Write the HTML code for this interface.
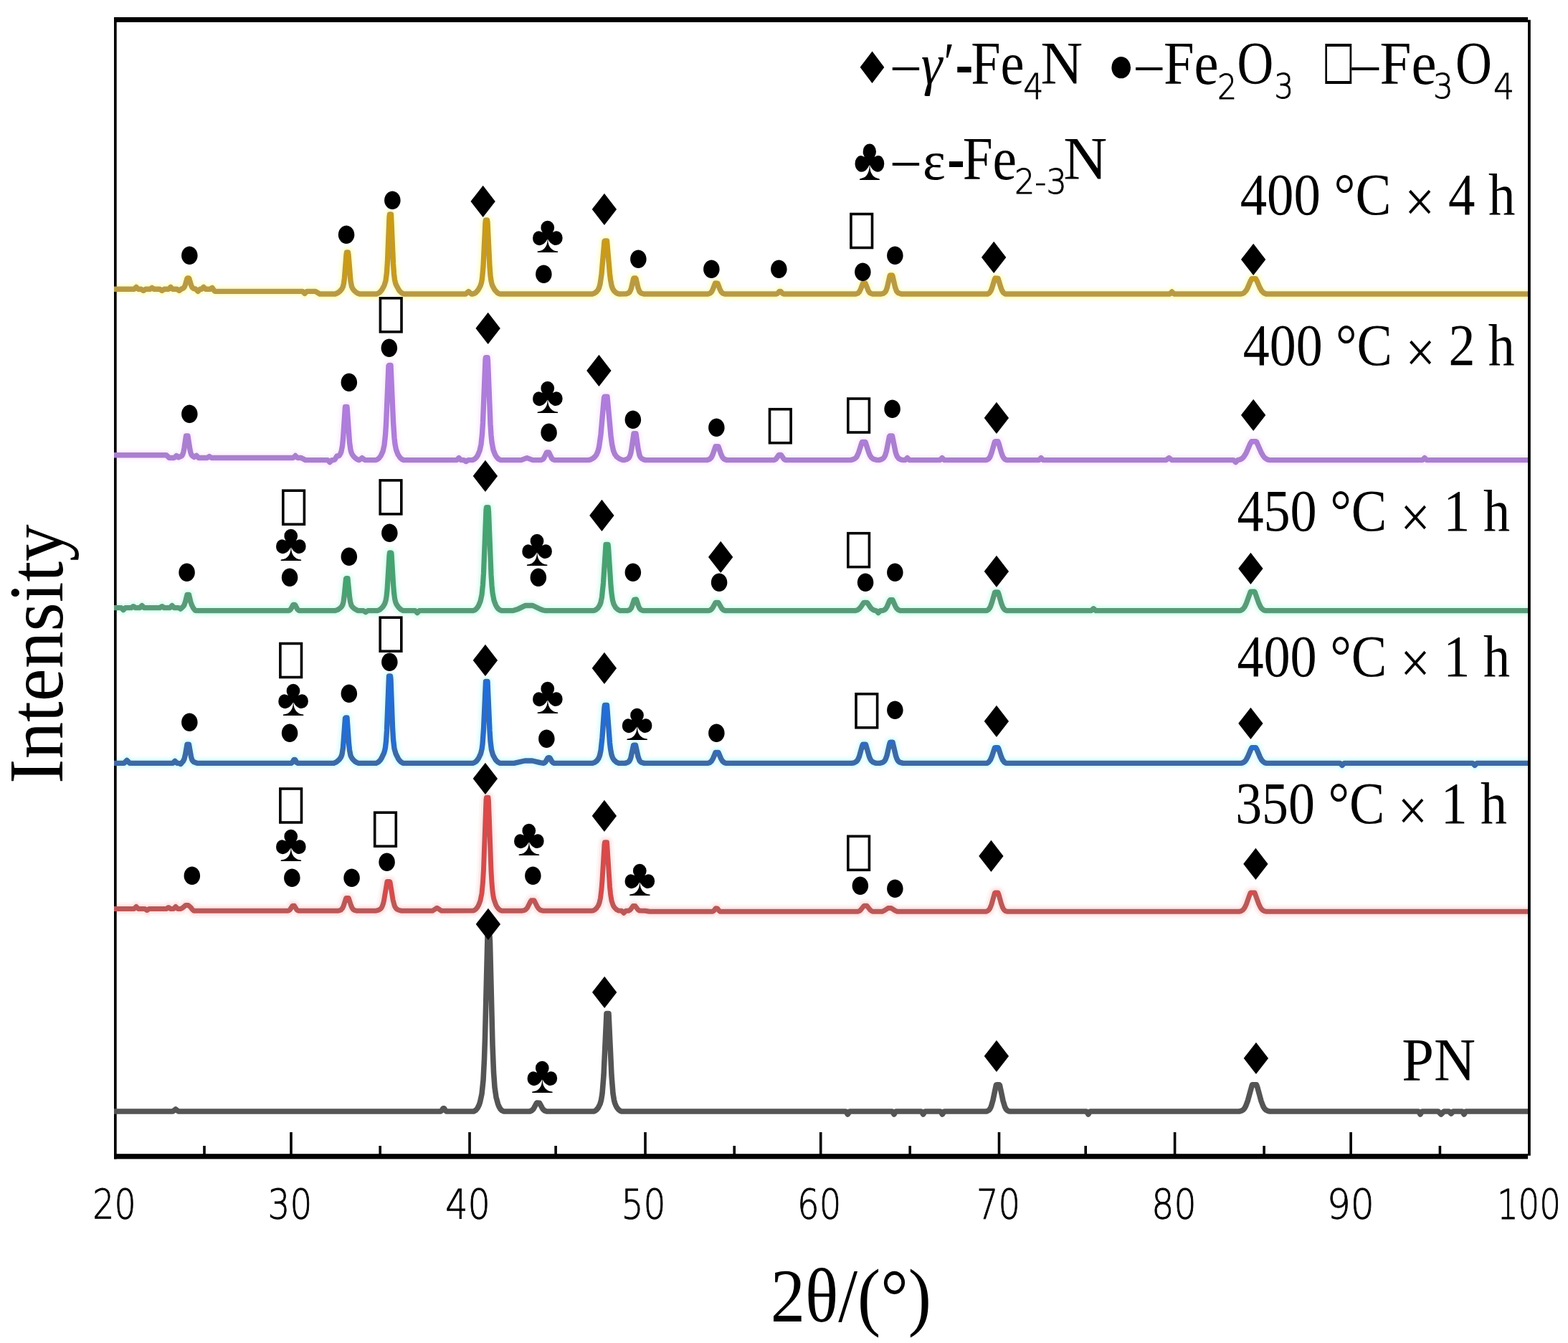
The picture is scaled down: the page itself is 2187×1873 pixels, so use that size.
<!DOCTYPE html>
<html lang="en">
<head>
<meta charset="utf-8">
<title>XRD patterns</title>
<style>
html,body{margin:0;padding:0;background:#fff;}
body{width:2187px;height:1873px;overflow:hidden;}
svg{display:block;}
text{fill:#000;white-space:pre;}
.se{font-family:"Liberation Serif","DejaVu Serif",serif;}
.sa{font-family:"Liberation Sans","DejaVu Sans",sans-serif;}
.dj{font-family:"DejaVu Sans","Liberation Sans",sans-serif;}
.tk{font-family:"DejaVu Sans","Liberation Sans",sans-serif;font-weight:200;stroke:#000;stroke-width:0.9px;}
.cv{fill:none;stroke-linejoin:round;stroke-linecap:butt;}
</style>
</head>
<body>
<svg width="2187" height="1873" viewBox="0 0 2187 1873" role="img" aria-label="XRD patterns">
<rect x="0" y="0" width="2187" height="1873" fill="#fff"/>
<g id="glow">
<path class="cv" stroke="#fffff0" stroke-width="19.4" d="M159.0 403.3L187.0 403.3L190.0 400.3L193.0 403.3L197.0 403.3L200.0 405.3L203.0 403.3L209.0 403.3L212.0 401.3L215.0 403.3L223.0 403.3L226.0 405.3L229.0 403.3L235.0 403.3L238.0 400.3L241.0 403.3L247.0 403.3L250.0 405.3L253.0 403.0L255.0 402.3L256.5 401.1L257.5 399.6L258.5 397.0L261.0 388.3L261.5 388.0L263.5 388.0L264.0 388.9L266.5 397.6L268.0 400.8L270.0 402.4L273.0 403.2L276.0 406.3L279.0 403.3L281.0 403.3L284.0 400.3L287.0 403.3L293.0 403.3L296.0 401.3L299.0 405.6L300.0 406.4L422.0 406.4L425.0 409.4L428.0 406.4L440.0 406.4L446.0 410.0L467.5 410.0L471.0 408.5L474.0 406.2L477.0 402.8L478.5 399.5L479.5 395.1L480.5 387.4L483.0 355.0L483.5 352.0L485.5 352.0L486.0 355.0L489.0 391.7L490.5 399.5L492.0 402.8L494.0 405.3L496.5 407.5L499.0 409.1L501.5 410.0L525.5 410.0L529.0 408.2L531.0 406.3L532.5 404.4L536.0 397.9L538.0 391.6L539.5 379.8L540.5 364.3L543.0 302.5L543.5 299.0L545.5 299.0L548.5 368.0L549.5 382.1L550.5 390.0L551.5 394.4L552.5 397.2L556.0 403.9L557.5 406.0L559.5 408.0L561.5 409.3L563.5 410.0L649.5 410.0L653.5 406.5L657.5 410.0L659.5 410.0L662.0 409.1L664.0 407.7L667.0 404.3L670.0 398.8L671.5 394.1L672.5 388.5L674.0 372.1L677.0 309.8L677.5 307.0L679.5 307.0L680.0 309.8L683.0 372.1L684.0 384.4L685.0 391.7L686.0 396.0L687.0 398.8L690.0 404.3L693.5 408.1L695.5 409.4L697.5 410.0L826.0 410.0L829.0 409.0L832.0 406.9L834.0 404.5L835.5 401.5L837.0 396.3L839.0 382.8L843.0 336.3L843.5 336.0L846.5 336.0L850.5 381.9L851.5 390.0L853.0 398.0L854.5 402.5L856.5 405.7L859.5 408.4L861.5 409.4L863.5 410.0L873.0 409.9L876.0 409.0L878.0 407.5L879.5 404.8L880.5 401.9L883.5 389.0L884.0 388.0L886.5 388.0L887.0 388.6L890.0 401.5L892.0 406.6L894.0 408.7L898.0 410.0L987.5 410.0L990.5 408.9L992.5 406.9L994.0 404.1L997.5 395.0L1001.0 395.2L1004.0 403.1L1006.0 407.1L1008.0 409.0L1011.0 410.0L1083.0 410.0L1084.5 409.2L1087.0 406.5L1089.0 406.5L1091.5 409.2L1093.0 410.0L1193.5 410.0L1196.5 409.0L1198.5 407.1L1200.5 403.1L1203.5 395.2L1204.0 395.0L1207.0 395.0L1211.0 405.2L1212.5 407.6L1214.0 408.9L1217.0 410.0L1229.0 410.0L1231.5 409.4L1233.5 408.3L1235.0 406.7L1236.0 404.9L1237.5 400.5L1241.0 385.0L1241.5 384.0L1244.5 384.0L1245.0 385.0L1248.5 400.5L1250.5 405.9L1251.5 407.3L1253.0 408.6L1257.0 410.0L1377.5 410.0L1380.0 408.5L1382.0 405.6L1383.5 402.0L1387.0 390.4L1388.0 388.0L1392.0 388.1L1396.0 401.1L1397.5 405.0L1399.5 408.2L1401.0 409.4L1402.5 410.0L1631.5 410.0L1634.6 407.0L1637.5 409.9L1638.0 410.0L1731.0 410.0L1733.0 409.5L1735.0 408.5L1738.0 405.3L1740.0 401.8L1744.5 391.3L1746.0 388.7L1751.5 388.7L1753.0 391.5L1757.0 400.9L1759.5 405.4L1762.5 408.5L1766.0 410.0L2133.0 410.0"/>
<path class="cv" stroke="#fffaff" stroke-width="19.4" d="M159.0 634.8L232.0 634.8L236.0 638.5L243.0 638.5L246.0 635.5L249.0 637.9L253.0 636.1L254.0 635.1L255.0 633.3L256.0 630.0L257.0 624.9L259.5 608.0L262.0 608.0L265.0 627.2L266.0 631.5L267.0 634.1L268.5 636.0L271.0 637.4L274.0 635.3L277.0 638.5L289.0 638.5L292.0 636.5L295.0 638.5L409.0 638.5L412.0 635.5L415.0 638.5L420.0 638.5L426.0 641.6L457.0 641.6L460.0 644.6L463.0 641.6L465.0 641.6L467.0 640.9L470.0 635.9L473.0 635.7L475.0 632.4L476.0 629.7L477.5 621.9L478.5 612.2L481.5 567.5L484.0 567.5L487.5 616.6L489.0 627.3L490.0 631.0L491.0 633.2L493.0 636.2L495.5 638.8L498.0 640.6L500.5 641.6L501.0 641.6L505.0 638.6L509.0 641.6L524.5 641.5L526.5 640.6L528.5 639.1L531.5 635.1L534.0 629.5L536.0 620.7L537.5 607.0L538.5 591.8L542.0 510.2L542.5 509.4L545.0 509.4L548.5 588.1L550.0 610.6L551.0 619.4L552.5 627.1L555.0 633.8L558.0 638.3L560.5 640.5L563.0 641.6L637.0 641.6L640.0 638.6L643.0 641.6L647.0 641.6L650.0 643.6L653.0 641.6L659.0 641.6L661.0 640.8L663.0 639.4L665.0 637.1L666.5 634.7L669.0 628.7L671.0 619.7L672.5 605.5L673.5 589.7L677.0 501.7L677.5 498.6L680.0 498.6L680.5 503.9L684.0 591.5L685.0 606.8L686.0 616.8L688.0 627.4L690.5 633.9L692.0 636.5L694.0 639.0L696.0 640.6L698.5 641.6L727.0 641.6L735.0 638.6L743.0 641.6L754.5 641.6L757.0 640.6L758.5 639.1L762.5 631.0L765.5 631.0L769.5 639.1L771.0 640.6L773.5 641.6L821.0 641.6L824.0 640.8L826.5 639.5L829.5 637.2L832.0 633.9L834.0 629.3L835.5 623.5L838.0 605.9L842.0 560.2L842.5 555.0L843.0 553.3L847.0 553.3L852.0 607.7L853.5 619.1L855.5 628.4L857.5 633.4L860.0 636.9L864.0 639.9L868.5 641.6L871.0 641.6L874.5 640.4L876.5 639.1L878.0 637.2L879.5 633.2L880.5 628.7L884.0 604.7L887.0 604.7L890.0 625.8L892.0 634.9L893.5 638.0L895.0 639.5L897.5 640.8L900.5 641.6L986.0 641.6L989.5 640.5L992.0 638.2L994.0 634.3L998.0 622.7L998.5 622.6L1002.0 622.7L1005.5 633.0L1007.5 637.4L1008.5 638.8L1010.0 640.2L1011.5 640.9L1014.0 641.6L1079.5 641.6L1081.0 641.1L1082.5 639.9L1086.0 634.8L1086.5 634.4L1089.0 634.4L1089.5 634.6L1093.0 639.8L1094.5 641.0L1096.0 641.6L1186.0 641.6L1189.0 641.0L1191.5 640.1L1193.5 638.6L1195.0 636.8L1197.5 631.5L1201.5 618.8L1202.5 616.5L1207.0 616.5L1212.0 631.8L1213.5 635.2L1215.5 638.2L1217.5 639.8L1219.5 640.7L1223.5 641.6L1226.0 641.6L1229.5 640.6L1231.5 639.5L1233.0 638.0L1234.5 635.3L1236.5 628.8L1240.0 610.9L1240.5 608.6L1241.0 608.0L1244.5 608.0L1249.0 630.0L1250.0 633.5L1251.5 636.9L1253.0 638.9L1254.5 640.0L1257.0 641.1L1259.5 641.6L1262.5 641.6L1265.5 638.6L1268.5 641.6L1311.0 641.6L1314.0 638.6L1317.0 641.6L1375.5 641.6L1377.0 641.1L1378.5 640.2L1380.0 638.5L1381.0 636.8L1383.0 631.7L1387.0 617.6L1387.5 616.1L1388.0 615.8L1392.0 615.8L1393.0 618.3L1396.5 630.8L1398.5 636.2L1399.5 638.0L1401.0 639.9L1402.5 641.0L1404.5 641.6L1449.0 641.6L1452.0 638.6L1455.0 641.6L1626.5 641.6L1630.6 638.6L1634.5 641.5L1635.0 641.6L1720.5 641.6L1723.5 644.6L1726.5 641.6L1729.0 641.1L1731.5 640.0L1733.5 638.5L1735.0 636.8L1738.0 632.0L1744.0 618.3L1745.5 615.8L1752.0 615.8L1752.5 616.1L1759.0 630.8L1762.0 636.0L1764.0 638.4L1766.0 639.9L1768.5 641.1L1771.0 641.6L1984.0 641.6L1987.0 638.6L1990.0 641.6L2133.0 641.6"/>
<path class="cv" stroke="#f4fffb" stroke-width="19.3" d="M159.0 847.6L169.0 847.6L172.0 850.6L175.0 847.6L183.0 847.6L186.0 845.6L189.0 847.6L195.0 847.6L198.0 844.6L201.0 847.6L223.0 847.6L226.0 845.6L229.0 847.6L237.0 847.6L240.0 844.6L243.0 847.6L249.0 847.6L252.0 849.2L256.0 845.3L257.0 843.7L258.5 839.3L261.0 829.3L263.5 829.3L266.0 839.7L267.5 843.9L269.5 847.8L272.0 851.2L274.0 851.7L402.0 851.7L404.0 851.0L405.5 849.6L409.0 843.4L411.0 843.4L411.5 843.6L415.0 850.0L416.5 851.2L418.0 851.7L467.5 851.7L471.0 850.4L474.5 848.0L476.5 846.0L478.0 843.2L479.0 839.3L480.0 832.6L482.5 807.2L483.0 806.6L485.0 806.6L487.5 831.8L488.5 838.8L490.0 844.2L491.5 846.5L494.5 849.1L498.0 851.0L500.0 851.7L507.0 851.7L510.0 853.7L513.0 851.7L526.5 851.7L530.0 850.1L533.5 846.9L536.5 842.3L538.0 837.9L539.0 832.4L540.0 823.2L543.0 774.6L543.5 770.8L545.5 770.8L546.0 771.6L548.5 814.0L549.5 826.5L550.5 834.4L551.5 839.1L553.0 842.9L556.0 847.2L559.0 850.0L562.5 851.7L579.0 851.7L582.0 854.7L585.0 851.7L660.0 851.7L662.0 850.9L664.0 849.5L666.0 847.1L667.5 844.7L670.0 838.7L672.0 829.6L673.5 815.3L674.5 799.4L678.0 710.7L678.5 707.6L681.0 707.6L681.5 713.0L685.0 801.2L686.0 816.6L687.0 826.7L689.0 837.4L691.5 843.9L693.0 846.6L695.0 849.1L697.0 850.7L699.5 851.7L714.5 851.7L716.5 851.3L722.5 849.4L733.0 844.4L743.0 844.5L754.0 849.8L757.5 851.0L761.0 851.7L828.0 851.7L831.0 850.5L834.0 847.9L836.5 844.1L838.0 840.1L839.5 832.7L841.5 813.1L845.0 759.3L848.0 759.3L848.5 762.5L852.0 816.9L853.0 827.3L854.5 837.2L856.0 842.5L858.5 847.1L861.5 850.0L865.0 851.7L875.0 851.7L877.0 851.1L878.5 850.4L880.0 848.7L881.0 846.8L884.5 836.3L887.5 836.0L890.5 845.0L892.0 848.4L894.0 850.6L897.5 851.7L988.0 851.7L990.5 851.0L992.5 849.5L994.5 846.8L998.0 840.5L998.5 840.4L1002.0 840.5L1007.0 849.0L1009.0 850.7L1012.0 851.7L1192.5 851.7L1196.0 850.7L1198.5 849.0L1200.5 846.7L1204.5 840.7L1205.0 840.4L1209.0 840.4L1209.5 840.5L1210.0 841.1L1214.0 847.1L1216.0 849.3L1218.5 850.9L1222.0 851.7L1225.0 854.7L1228.0 851.7L1230.0 851.7L1232.0 851.2L1233.5 850.6L1235.0 849.4L1237.0 846.5L1240.5 838.3L1241.5 836.7L1245.0 836.7L1249.0 845.7L1250.5 848.3L1253.0 850.6L1256.0 851.7L1375.5 851.7L1377.5 851.0L1379.0 849.8L1380.5 847.8L1381.5 845.8L1383.5 840.2L1387.5 826.3L1388.0 825.9L1392.0 825.9L1393.0 828.4L1396.5 840.9L1398.5 846.3L1399.5 848.1L1401.0 850.0L1402.5 851.1L1404.5 851.7L1522.0 851.7L1525.2 848.7L1528.5 851.7L1728.5 851.7L1730.5 851.3L1732.5 850.3L1734.5 848.5L1736.0 846.4L1738.5 841.1L1744.0 825.7L1744.5 825.2L1749.5 825.2L1750.0 825.3L1750.5 826.4L1755.5 840.6L1758.0 846.0L1759.5 848.3L1761.5 850.1L1763.5 851.2L1765.5 851.7L2133.0 851.7"/>
<path class="cv" stroke="#f3ffff" stroke-width="19.4" d="M159.0 1064.4L173.0 1064.4L177.0 1060.4L181.0 1064.4L241.0 1064.4L244.0 1061.4L247.0 1064.4L249.0 1064.4L252.0 1065.5L255.5 1061.5L257.0 1058.5L258.5 1052.3L261.0 1038.2L263.5 1038.2L266.5 1055.2L267.5 1058.8L268.5 1060.9L270.5 1062.8L275.5 1064.4L406.0 1064.4L407.5 1063.6L410.0 1059.5L411.5 1059.5L414.0 1063.5L415.5 1064.4L465.5 1064.4L469.5 1062.6L473.0 1059.5L475.5 1056.1L477.0 1052.2L478.5 1042.6L481.5 1001.8L482.0 1001.0L484.0 1001.0L486.5 1036.2L487.5 1046.0L489.0 1053.6L490.5 1056.8L492.5 1059.4L495.0 1061.8L497.5 1063.4L500.0 1064.4L524.5 1064.4L526.5 1063.5L528.5 1062.1L530.5 1059.9L532.0 1057.7L535.5 1050.3L536.5 1047.2L537.5 1042.4L538.5 1033.8L539.5 1018.4L542.5 942.9L544.5 942.9L545.0 946.8L547.5 1014.3L548.5 1031.3L550.0 1044.1L552.0 1051.1L555.5 1058.2L557.0 1060.3L559.0 1062.4L561.0 1063.7L563.0 1064.4L659.5 1064.4L662.0 1063.4L664.5 1061.5L667.5 1057.5L670.5 1051.1L672.0 1045.2L673.0 1038.0L674.5 1017.1L677.5 950.4L680.0 950.4L683.0 1018.9L684.0 1033.7L685.5 1045.8L687.5 1052.7L690.5 1058.4L692.0 1060.5L694.0 1062.5L696.0 1063.7L698.0 1064.4L717.0 1064.4L732.0 1061.0L742.5 1061.0L753.5 1063.7L758.0 1064.4L759.5 1063.8L761.0 1062.4L764.0 1057.1L764.5 1056.8L766.5 1056.8L767.0 1057.1L770.0 1062.4L771.5 1063.8L773.0 1064.4L826.5 1064.4L829.5 1063.3L832.5 1061.0L835.0 1057.5L836.5 1053.6L838.0 1046.6L840.0 1028.3L843.0 986.3L843.5 983.5L846.5 983.5L850.5 1036.1L851.5 1044.6L853.0 1052.6L854.5 1056.9L856.5 1060.1L859.5 1062.8L863.0 1064.4L872.0 1064.4L875.5 1063.3L877.5 1061.8L879.0 1059.1L880.0 1056.1L883.5 1039.5L884.0 1039.2L886.5 1039.2L890.0 1055.4L892.0 1060.8L893.0 1062.1L894.5 1063.2L898.5 1064.4L987.0 1064.4L990.0 1063.4L992.5 1061.3L994.5 1057.7L998.0 1049.5L998.5 1049.4L1002.0 1049.5L1005.5 1057.7L1007.5 1061.3L1010.0 1063.4L1013.0 1064.4L1188.0 1064.4L1191.0 1063.8L1193.5 1062.7L1195.0 1061.5L1196.5 1059.5L1198.5 1054.9L1202.5 1040.5L1203.5 1038.2L1207.5 1038.2L1212.5 1055.5L1214.0 1058.9L1215.5 1061.2L1217.5 1062.8L1220.0 1063.8L1222.5 1064.4L1227.0 1064.4L1230.0 1063.7L1232.0 1062.8L1233.5 1061.5L1235.0 1059.2L1237.0 1053.7L1240.5 1038.2L1241.5 1035.2L1245.0 1035.2L1249.5 1054.1L1250.5 1057.2L1252.0 1060.3L1253.5 1062.1L1255.0 1063.1L1259.5 1064.4L1376.0 1064.4L1377.5 1063.9L1379.0 1062.9L1381.5 1059.5L1383.5 1054.8L1387.0 1044.2L1387.5 1042.9L1388.0 1042.6L1392.0 1042.6L1393.0 1044.7L1396.5 1055.3L1398.5 1059.9L1401.0 1063.1L1402.5 1064.0L1404.0 1064.4L1731.0 1064.4L1733.0 1063.9L1735.0 1062.9L1736.5 1061.6L1738.0 1059.7L1740.5 1055.1L1744.5 1045.5L1746.0 1042.6L1751.5 1042.6L1753.0 1045.3L1757.5 1056.0L1759.5 1059.6L1761.0 1061.5L1762.5 1062.8L1764.5 1063.9L1766.5 1064.4L1869.0 1064.4L1872.0 1067.4L1875.0 1064.4L2054.0 1064.4L2057.0 1067.4L2060.0 1064.4L2133.0 1064.4"/>
<path class="cv" stroke="#fff6f6" stroke-width="19.0" d="M159.0 1267.5L187.0 1267.5L190.0 1264.5L193.0 1267.5L202.0 1267.5L205.0 1269.5L208.0 1267.5L232.0 1267.5L235.0 1265.5L238.0 1267.5L242.0 1267.5L245.0 1264.5L248.0 1267.5L251.5 1267.5L253.0 1267.1L254.5 1266.2L259.0 1262.5L262.5 1262.5L266.0 1265.4L268.0 1268.1L270.0 1270.2L401.5 1270.2L403.0 1269.7L404.5 1268.5L408.0 1263.2L410.0 1263.2L410.5 1263.3L414.0 1268.9L415.0 1269.6L416.5 1270.2L472.0 1270.2L474.0 1269.7L475.5 1269.0L477.5 1266.9L479.0 1263.9L482.5 1253.1L483.0 1252.4L486.0 1252.4L486.5 1253.1L489.5 1262.5L491.0 1266.0L492.5 1268.2L494.5 1269.5L497.0 1270.2L524.5 1270.2L527.5 1269.4L530.0 1268.1L531.5 1266.8L533.0 1264.4L534.5 1260.2L535.5 1256.0L540.0 1229.4L543.5 1229.4L544.0 1230.2L544.5 1232.9L548.0 1254.6L550.0 1262.4L551.0 1264.8L552.5 1267.0L554.0 1268.3L556.5 1269.4L559.5 1270.2L603.5 1270.2L609.5 1266.2L615.5 1270.2L660.0 1270.1L662.0 1269.2L664.0 1267.7L666.0 1265.1L667.5 1262.4L670.0 1255.9L672.0 1245.9L673.5 1230.2L674.5 1212.8L678.0 1115.6L678.5 1112.2L681.0 1112.2L681.5 1118.1L685.0 1214.8L686.0 1231.6L687.0 1242.7L688.0 1249.7L689.0 1254.4L691.5 1261.6L693.0 1264.5L695.0 1267.2L697.0 1269.0L699.5 1270.2L728.5 1270.2L731.0 1269.6L733.5 1268.3L735.5 1266.0L740.0 1257.1L741.0 1255.8L745.0 1255.8L749.0 1263.8L751.0 1266.9L753.5 1269.1L757.0 1270.2L826.0 1270.2L827.5 1269.8L829.5 1268.8L832.0 1266.6L834.5 1262.9L836.0 1259.2L837.5 1252.4L839.0 1240.0L840.0 1227.4L843.0 1177.9L843.5 1174.7L846.5 1174.7L850.5 1236.6L851.5 1246.7L853.0 1256.1L855.0 1262.3L856.5 1265.0L858.5 1267.3L860.5 1268.9L863.0 1270.1L867.0 1270.2L870.0 1273.2L873.0 1270.2L876.5 1270.2L878.5 1269.3L880.0 1267.8L883.0 1263.5L886.0 1263.5L889.5 1268.3L892.0 1270.1L900.0 1270.2L906.0 1271.2L994.0 1271.2L995.5 1270.4L998.0 1267.0L998.5 1266.8L1000.5 1266.9L1003.0 1270.3L1004.5 1271.2L1196.5 1271.2L1198.5 1270.5L1200.0 1269.5L1205.0 1263.4L1205.5 1263.2L1209.0 1263.2L1214.0 1269.4L1215.5 1270.4L1217.5 1271.2L1230.5 1271.2L1233.5 1269.9L1238.5 1266.6L1243.0 1266.6L1248.5 1270.0L1251.5 1271.2L1375.5 1271.2L1377.0 1270.7L1378.5 1269.7L1380.0 1268.0L1381.0 1266.3L1383.0 1261.2L1387.0 1246.9L1387.5 1245.4L1388.0 1245.0L1392.0 1245.0L1393.0 1247.5L1396.5 1260.2L1398.5 1265.7L1399.5 1267.6L1401.0 1269.5L1402.5 1270.6L1404.5 1271.2L1729.0 1271.2L1731.0 1270.6L1733.0 1269.5L1734.5 1268.0L1736.0 1265.9L1738.5 1260.7L1743.0 1247.9L1744.0 1245.5L1744.5 1245.0L1750.0 1245.0L1755.5 1260.2L1758.0 1265.6L1759.5 1267.8L1761.5 1269.7L1763.5 1270.7L1765.5 1271.2L2133.0 1271.2"/>
<path class="cv" stroke="#ffffd4" stroke-width="13.4" d="M159.0 403.3L187.0 403.3L190.0 400.3L193.0 403.3L197.0 403.3L200.0 405.3L203.0 403.3L209.0 403.3L212.0 401.3L215.0 403.3L223.0 403.3L226.0 405.3L229.0 403.3L235.0 403.3L238.0 400.3L241.0 403.3L247.0 403.3L250.0 405.3L253.0 403.0L255.0 402.3L256.5 401.1L257.5 399.6L258.5 397.0L261.0 388.3L261.5 388.0L263.5 388.0L264.0 388.9L266.5 397.6L268.0 400.8L270.0 402.4L273.0 403.2L276.0 406.3L279.0 403.3L281.0 403.3L284.0 400.3L287.0 403.3L293.0 403.3L296.0 401.3L299.0 405.6L300.0 406.4L422.0 406.4L425.0 409.4L428.0 406.4L440.0 406.4L446.0 410.0L467.5 410.0L471.0 408.5L474.0 406.2L477.0 402.8L478.5 399.5L479.5 395.1L480.5 387.4L483.0 355.0L483.5 352.0L485.5 352.0L486.0 355.0L489.0 391.7L490.5 399.5L492.0 402.8L494.0 405.3L496.5 407.5L499.0 409.1L501.5 410.0L525.5 410.0L529.0 408.2L531.0 406.3L532.5 404.4L536.0 397.9L538.0 391.6L539.5 379.8L540.5 364.3L543.0 302.5L543.5 299.0L545.5 299.0L548.5 368.0L549.5 382.1L550.5 390.0L551.5 394.4L552.5 397.2L556.0 403.9L557.5 406.0L559.5 408.0L561.5 409.3L563.5 410.0L649.5 410.0L653.5 406.5L657.5 410.0L659.5 410.0L662.0 409.1L664.0 407.7L667.0 404.3L670.0 398.8L671.5 394.1L672.5 388.5L674.0 372.1L677.0 309.8L677.5 307.0L679.5 307.0L680.0 309.8L683.0 372.1L684.0 384.4L685.0 391.7L686.0 396.0L687.0 398.8L690.0 404.3L693.5 408.1L695.5 409.4L697.5 410.0L826.0 410.0L829.0 409.0L832.0 406.9L834.0 404.5L835.5 401.5L837.0 396.3L839.0 382.8L843.0 336.3L843.5 336.0L846.5 336.0L850.5 381.9L851.5 390.0L853.0 398.0L854.5 402.5L856.5 405.7L859.5 408.4L861.5 409.4L863.5 410.0L873.0 409.9L876.0 409.0L878.0 407.5L879.5 404.8L880.5 401.9L883.5 389.0L884.0 388.0L886.5 388.0L887.0 388.6L890.0 401.5L892.0 406.6L894.0 408.7L898.0 410.0L987.5 410.0L990.5 408.9L992.5 406.9L994.0 404.1L997.5 395.0L1001.0 395.2L1004.0 403.1L1006.0 407.1L1008.0 409.0L1011.0 410.0L1083.0 410.0L1084.5 409.2L1087.0 406.5L1089.0 406.5L1091.5 409.2L1093.0 410.0L1193.5 410.0L1196.5 409.0L1198.5 407.1L1200.5 403.1L1203.5 395.2L1204.0 395.0L1207.0 395.0L1211.0 405.2L1212.5 407.6L1214.0 408.9L1217.0 410.0L1229.0 410.0L1231.5 409.4L1233.5 408.3L1235.0 406.7L1236.0 404.9L1237.5 400.5L1241.0 385.0L1241.5 384.0L1244.5 384.0L1245.0 385.0L1248.5 400.5L1250.5 405.9L1251.5 407.3L1253.0 408.6L1257.0 410.0L1377.5 410.0L1380.0 408.5L1382.0 405.6L1383.5 402.0L1387.0 390.4L1388.0 388.0L1392.0 388.1L1396.0 401.1L1397.5 405.0L1399.5 408.2L1401.0 409.4L1402.5 410.0L1631.5 410.0L1634.6 407.0L1637.5 409.9L1638.0 410.0L1731.0 410.0L1733.0 409.5L1735.0 408.5L1738.0 405.3L1740.0 401.8L1744.5 391.3L1746.0 388.7L1751.5 388.7L1753.0 391.5L1757.0 400.9L1759.5 405.4L1762.5 408.5L1766.0 410.0L2133.0 410.0"/>
<path class="cv" stroke="#fcf2ff" stroke-width="13.4" d="M159.0 634.8L232.0 634.8L236.0 638.5L243.0 638.5L246.0 635.5L249.0 637.9L253.0 636.1L254.0 635.1L255.0 633.3L256.0 630.0L257.0 624.9L259.5 608.0L262.0 608.0L265.0 627.2L266.0 631.5L267.0 634.1L268.5 636.0L271.0 637.4L274.0 635.3L277.0 638.5L289.0 638.5L292.0 636.5L295.0 638.5L409.0 638.5L412.0 635.5L415.0 638.5L420.0 638.5L426.0 641.6L457.0 641.6L460.0 644.6L463.0 641.6L465.0 641.6L467.0 640.9L470.0 635.9L473.0 635.7L475.0 632.4L476.0 629.7L477.5 621.9L478.5 612.2L481.5 567.5L484.0 567.5L487.5 616.6L489.0 627.3L490.0 631.0L491.0 633.2L493.0 636.2L495.5 638.8L498.0 640.6L500.5 641.6L501.0 641.6L505.0 638.6L509.0 641.6L524.5 641.5L526.5 640.6L528.5 639.1L531.5 635.1L534.0 629.5L536.0 620.7L537.5 607.0L538.5 591.8L542.0 510.2L542.5 509.4L545.0 509.4L548.5 588.1L550.0 610.6L551.0 619.4L552.5 627.1L555.0 633.8L558.0 638.3L560.5 640.5L563.0 641.6L637.0 641.6L640.0 638.6L643.0 641.6L647.0 641.6L650.0 643.6L653.0 641.6L659.0 641.6L661.0 640.8L663.0 639.4L665.0 637.1L666.5 634.7L669.0 628.7L671.0 619.7L672.5 605.5L673.5 589.7L677.0 501.7L677.5 498.6L680.0 498.6L680.5 503.9L684.0 591.5L685.0 606.8L686.0 616.8L688.0 627.4L690.5 633.9L692.0 636.5L694.0 639.0L696.0 640.6L698.5 641.6L727.0 641.6L735.0 638.6L743.0 641.6L754.5 641.6L757.0 640.6L758.5 639.1L762.5 631.0L765.5 631.0L769.5 639.1L771.0 640.6L773.5 641.6L821.0 641.6L824.0 640.8L826.5 639.5L829.5 637.2L832.0 633.9L834.0 629.3L835.5 623.5L838.0 605.9L842.0 560.2L842.5 555.0L843.0 553.3L847.0 553.3L852.0 607.7L853.5 619.1L855.5 628.4L857.5 633.4L860.0 636.9L864.0 639.9L868.5 641.6L871.0 641.6L874.5 640.4L876.5 639.1L878.0 637.2L879.5 633.2L880.5 628.7L884.0 604.7L887.0 604.7L890.0 625.8L892.0 634.9L893.5 638.0L895.0 639.5L897.5 640.8L900.5 641.6L986.0 641.6L989.5 640.5L992.0 638.2L994.0 634.3L998.0 622.7L998.5 622.6L1002.0 622.7L1005.5 633.0L1007.5 637.4L1008.5 638.8L1010.0 640.2L1011.5 640.9L1014.0 641.6L1079.5 641.6L1081.0 641.1L1082.5 639.9L1086.0 634.8L1086.5 634.4L1089.0 634.4L1089.5 634.6L1093.0 639.8L1094.5 641.0L1096.0 641.6L1186.0 641.6L1189.0 641.0L1191.5 640.1L1193.5 638.6L1195.0 636.8L1197.5 631.5L1201.5 618.8L1202.5 616.5L1207.0 616.5L1212.0 631.8L1213.5 635.2L1215.5 638.2L1217.5 639.8L1219.5 640.7L1223.5 641.6L1226.0 641.6L1229.5 640.6L1231.5 639.5L1233.0 638.0L1234.5 635.3L1236.5 628.8L1240.0 610.9L1240.5 608.6L1241.0 608.0L1244.5 608.0L1249.0 630.0L1250.0 633.5L1251.5 636.9L1253.0 638.9L1254.5 640.0L1257.0 641.1L1259.5 641.6L1262.5 641.6L1265.5 638.6L1268.5 641.6L1311.0 641.6L1314.0 638.6L1317.0 641.6L1375.5 641.6L1377.0 641.1L1378.5 640.2L1380.0 638.5L1381.0 636.8L1383.0 631.7L1387.0 617.6L1387.5 616.1L1388.0 615.8L1392.0 615.8L1393.0 618.3L1396.5 630.8L1398.5 636.2L1399.5 638.0L1401.0 639.9L1402.5 641.0L1404.5 641.6L1449.0 641.6L1452.0 638.6L1455.0 641.6L1626.5 641.6L1630.6 638.6L1634.5 641.5L1635.0 641.6L1720.5 641.6L1723.5 644.6L1726.5 641.6L1729.0 641.1L1731.5 640.0L1733.5 638.5L1735.0 636.8L1738.0 632.0L1744.0 618.3L1745.5 615.8L1752.0 615.8L1752.5 616.1L1759.0 630.8L1762.0 636.0L1764.0 638.4L1766.0 639.9L1768.5 641.1L1771.0 641.6L1984.0 641.6L1987.0 638.6L1990.0 641.6L2133.0 641.6"/>
<path class="cv" stroke="#e4fff4" stroke-width="13.3" d="M159.0 847.6L169.0 847.6L172.0 850.6L175.0 847.6L183.0 847.6L186.0 845.6L189.0 847.6L195.0 847.6L198.0 844.6L201.0 847.6L223.0 847.6L226.0 845.6L229.0 847.6L237.0 847.6L240.0 844.6L243.0 847.6L249.0 847.6L252.0 849.2L256.0 845.3L257.0 843.7L258.5 839.3L261.0 829.3L263.5 829.3L266.0 839.7L267.5 843.9L269.5 847.8L272.0 851.2L274.0 851.7L402.0 851.7L404.0 851.0L405.5 849.6L409.0 843.4L411.0 843.4L411.5 843.6L415.0 850.0L416.5 851.2L418.0 851.7L467.5 851.7L471.0 850.4L474.5 848.0L476.5 846.0L478.0 843.2L479.0 839.3L480.0 832.6L482.5 807.2L483.0 806.6L485.0 806.6L487.5 831.8L488.5 838.8L490.0 844.2L491.5 846.5L494.5 849.1L498.0 851.0L500.0 851.7L507.0 851.7L510.0 853.7L513.0 851.7L526.5 851.7L530.0 850.1L533.5 846.9L536.5 842.3L538.0 837.9L539.0 832.4L540.0 823.2L543.0 774.6L543.5 770.8L545.5 770.8L546.0 771.6L548.5 814.0L549.5 826.5L550.5 834.4L551.5 839.1L553.0 842.9L556.0 847.2L559.0 850.0L562.5 851.7L579.0 851.7L582.0 854.7L585.0 851.7L660.0 851.7L662.0 850.9L664.0 849.5L666.0 847.1L667.5 844.7L670.0 838.7L672.0 829.6L673.5 815.3L674.5 799.4L678.0 710.7L678.5 707.6L681.0 707.6L681.5 713.0L685.0 801.2L686.0 816.6L687.0 826.7L689.0 837.4L691.5 843.9L693.0 846.6L695.0 849.1L697.0 850.7L699.5 851.7L714.5 851.7L716.5 851.3L722.5 849.4L733.0 844.4L743.0 844.5L754.0 849.8L757.5 851.0L761.0 851.7L828.0 851.7L831.0 850.5L834.0 847.9L836.5 844.1L838.0 840.1L839.5 832.7L841.5 813.1L845.0 759.3L848.0 759.3L848.5 762.5L852.0 816.9L853.0 827.3L854.5 837.2L856.0 842.5L858.5 847.1L861.5 850.0L865.0 851.7L875.0 851.7L877.0 851.1L878.5 850.4L880.0 848.7L881.0 846.8L884.5 836.3L887.5 836.0L890.5 845.0L892.0 848.4L894.0 850.6L897.5 851.7L988.0 851.7L990.5 851.0L992.5 849.5L994.5 846.8L998.0 840.5L998.5 840.4L1002.0 840.5L1007.0 849.0L1009.0 850.7L1012.0 851.7L1192.5 851.7L1196.0 850.7L1198.5 849.0L1200.5 846.7L1204.5 840.7L1205.0 840.4L1209.0 840.4L1209.5 840.5L1210.0 841.1L1214.0 847.1L1216.0 849.3L1218.5 850.9L1222.0 851.7L1225.0 854.7L1228.0 851.7L1230.0 851.7L1232.0 851.2L1233.5 850.6L1235.0 849.4L1237.0 846.5L1240.5 838.3L1241.5 836.7L1245.0 836.7L1249.0 845.7L1250.5 848.3L1253.0 850.6L1256.0 851.7L1375.5 851.7L1377.5 851.0L1379.0 849.8L1380.5 847.8L1381.5 845.8L1383.5 840.2L1387.5 826.3L1388.0 825.9L1392.0 825.9L1393.0 828.4L1396.5 840.9L1398.5 846.3L1399.5 848.1L1401.0 850.0L1402.5 851.1L1404.5 851.7L1522.0 851.7L1525.2 848.7L1528.5 851.7L1728.5 851.7L1730.5 851.3L1732.5 850.3L1734.5 848.5L1736.0 846.4L1738.5 841.1L1744.0 825.7L1744.5 825.2L1749.5 825.2L1750.0 825.3L1750.5 826.4L1755.5 840.6L1758.0 846.0L1759.5 848.3L1761.5 850.1L1763.5 851.2L1765.5 851.7L2133.0 851.7"/>
<path class="cv" stroke="#e2ffff" stroke-width="13.4" d="M159.0 1064.4L173.0 1064.4L177.0 1060.4L181.0 1064.4L241.0 1064.4L244.0 1061.4L247.0 1064.4L249.0 1064.4L252.0 1065.5L255.5 1061.5L257.0 1058.5L258.5 1052.3L261.0 1038.2L263.5 1038.2L266.5 1055.2L267.5 1058.8L268.5 1060.9L270.5 1062.8L275.5 1064.4L406.0 1064.4L407.5 1063.6L410.0 1059.5L411.5 1059.5L414.0 1063.5L415.5 1064.4L465.5 1064.4L469.5 1062.6L473.0 1059.5L475.5 1056.1L477.0 1052.2L478.5 1042.6L481.5 1001.8L482.0 1001.0L484.0 1001.0L486.5 1036.2L487.5 1046.0L489.0 1053.6L490.5 1056.8L492.5 1059.4L495.0 1061.8L497.5 1063.4L500.0 1064.4L524.5 1064.4L526.5 1063.5L528.5 1062.1L530.5 1059.9L532.0 1057.7L535.5 1050.3L536.5 1047.2L537.5 1042.4L538.5 1033.8L539.5 1018.4L542.5 942.9L544.5 942.9L545.0 946.8L547.5 1014.3L548.5 1031.3L550.0 1044.1L552.0 1051.1L555.5 1058.2L557.0 1060.3L559.0 1062.4L561.0 1063.7L563.0 1064.4L659.5 1064.4L662.0 1063.4L664.5 1061.5L667.5 1057.5L670.5 1051.1L672.0 1045.2L673.0 1038.0L674.5 1017.1L677.5 950.4L680.0 950.4L683.0 1018.9L684.0 1033.7L685.5 1045.8L687.5 1052.7L690.5 1058.4L692.0 1060.5L694.0 1062.5L696.0 1063.7L698.0 1064.4L717.0 1064.4L732.0 1061.0L742.5 1061.0L753.5 1063.7L758.0 1064.4L759.5 1063.8L761.0 1062.4L764.0 1057.1L764.5 1056.8L766.5 1056.8L767.0 1057.1L770.0 1062.4L771.5 1063.8L773.0 1064.4L826.5 1064.4L829.5 1063.3L832.5 1061.0L835.0 1057.5L836.5 1053.6L838.0 1046.6L840.0 1028.3L843.0 986.3L843.5 983.5L846.5 983.5L850.5 1036.1L851.5 1044.6L853.0 1052.6L854.5 1056.9L856.5 1060.1L859.5 1062.8L863.0 1064.4L872.0 1064.4L875.5 1063.3L877.5 1061.8L879.0 1059.1L880.0 1056.1L883.5 1039.5L884.0 1039.2L886.5 1039.2L890.0 1055.4L892.0 1060.8L893.0 1062.1L894.5 1063.2L898.5 1064.4L987.0 1064.4L990.0 1063.4L992.5 1061.3L994.5 1057.7L998.0 1049.5L998.5 1049.4L1002.0 1049.5L1005.5 1057.7L1007.5 1061.3L1010.0 1063.4L1013.0 1064.4L1188.0 1064.4L1191.0 1063.8L1193.5 1062.7L1195.0 1061.5L1196.5 1059.5L1198.5 1054.9L1202.5 1040.5L1203.5 1038.2L1207.5 1038.2L1212.5 1055.5L1214.0 1058.9L1215.5 1061.2L1217.5 1062.8L1220.0 1063.8L1222.5 1064.4L1227.0 1064.4L1230.0 1063.7L1232.0 1062.8L1233.5 1061.5L1235.0 1059.2L1237.0 1053.7L1240.5 1038.2L1241.5 1035.2L1245.0 1035.2L1249.5 1054.1L1250.5 1057.2L1252.0 1060.3L1253.5 1062.1L1255.0 1063.1L1259.5 1064.4L1376.0 1064.4L1377.5 1063.9L1379.0 1062.9L1381.5 1059.5L1383.5 1054.8L1387.0 1044.2L1387.5 1042.9L1388.0 1042.6L1392.0 1042.6L1393.0 1044.7L1396.5 1055.3L1398.5 1059.9L1401.0 1063.1L1402.5 1064.0L1404.0 1064.4L1731.0 1064.4L1733.0 1063.9L1735.0 1062.9L1736.5 1061.6L1738.0 1059.7L1740.5 1055.1L1744.5 1045.5L1746.0 1042.6L1751.5 1042.6L1753.0 1045.3L1757.5 1056.0L1759.5 1059.6L1761.0 1061.5L1762.5 1062.8L1764.5 1063.9L1766.5 1064.4L1869.0 1064.4L1872.0 1067.4L1875.0 1064.4L2054.0 1064.4L2057.0 1067.4L2060.0 1064.4L2133.0 1064.4"/>
<path class="cv" stroke="#ffe8e8" stroke-width="13.0" d="M159.0 1267.5L187.0 1267.5L190.0 1264.5L193.0 1267.5L202.0 1267.5L205.0 1269.5L208.0 1267.5L232.0 1267.5L235.0 1265.5L238.0 1267.5L242.0 1267.5L245.0 1264.5L248.0 1267.5L251.5 1267.5L253.0 1267.1L254.5 1266.2L259.0 1262.5L262.5 1262.5L266.0 1265.4L268.0 1268.1L270.0 1270.2L401.5 1270.2L403.0 1269.7L404.5 1268.5L408.0 1263.2L410.0 1263.2L410.5 1263.3L414.0 1268.9L415.0 1269.6L416.5 1270.2L472.0 1270.2L474.0 1269.7L475.5 1269.0L477.5 1266.9L479.0 1263.9L482.5 1253.1L483.0 1252.4L486.0 1252.4L486.5 1253.1L489.5 1262.5L491.0 1266.0L492.5 1268.2L494.5 1269.5L497.0 1270.2L524.5 1270.2L527.5 1269.4L530.0 1268.1L531.5 1266.8L533.0 1264.4L534.5 1260.2L535.5 1256.0L540.0 1229.4L543.5 1229.4L544.0 1230.2L544.5 1232.9L548.0 1254.6L550.0 1262.4L551.0 1264.8L552.5 1267.0L554.0 1268.3L556.5 1269.4L559.5 1270.2L603.5 1270.2L609.5 1266.2L615.5 1270.2L660.0 1270.1L662.0 1269.2L664.0 1267.7L666.0 1265.1L667.5 1262.4L670.0 1255.9L672.0 1245.9L673.5 1230.2L674.5 1212.8L678.0 1115.6L678.5 1112.2L681.0 1112.2L681.5 1118.1L685.0 1214.8L686.0 1231.6L687.0 1242.7L688.0 1249.7L689.0 1254.4L691.5 1261.6L693.0 1264.5L695.0 1267.2L697.0 1269.0L699.5 1270.2L728.5 1270.2L731.0 1269.6L733.5 1268.3L735.5 1266.0L740.0 1257.1L741.0 1255.8L745.0 1255.8L749.0 1263.8L751.0 1266.9L753.5 1269.1L757.0 1270.2L826.0 1270.2L827.5 1269.8L829.5 1268.8L832.0 1266.6L834.5 1262.9L836.0 1259.2L837.5 1252.4L839.0 1240.0L840.0 1227.4L843.0 1177.9L843.5 1174.7L846.5 1174.7L850.5 1236.6L851.5 1246.7L853.0 1256.1L855.0 1262.3L856.5 1265.0L858.5 1267.3L860.5 1268.9L863.0 1270.1L867.0 1270.2L870.0 1273.2L873.0 1270.2L876.5 1270.2L878.5 1269.3L880.0 1267.8L883.0 1263.5L886.0 1263.5L889.5 1268.3L892.0 1270.1L900.0 1270.2L906.0 1271.2L994.0 1271.2L995.5 1270.4L998.0 1267.0L998.5 1266.8L1000.5 1266.9L1003.0 1270.3L1004.5 1271.2L1196.5 1271.2L1198.5 1270.5L1200.0 1269.5L1205.0 1263.4L1205.5 1263.2L1209.0 1263.2L1214.0 1269.4L1215.5 1270.4L1217.5 1271.2L1230.5 1271.2L1233.5 1269.9L1238.5 1266.6L1243.0 1266.6L1248.5 1270.0L1251.5 1271.2L1375.5 1271.2L1377.0 1270.7L1378.5 1269.7L1380.0 1268.0L1381.0 1266.3L1383.0 1261.2L1387.0 1246.9L1387.5 1245.4L1388.0 1245.0L1392.0 1245.0L1393.0 1247.5L1396.5 1260.2L1398.5 1265.7L1399.5 1267.6L1401.0 1269.5L1402.5 1270.6L1404.5 1271.2L1729.0 1271.2L1731.0 1270.6L1733.0 1269.5L1734.5 1268.0L1736.0 1265.9L1738.5 1260.7L1743.0 1247.9L1744.0 1245.5L1744.5 1245.0L1750.0 1245.0L1755.5 1260.2L1758.0 1265.6L1759.5 1267.8L1761.5 1269.7L1763.5 1270.7L1765.5 1271.2L2133.0 1271.2"/>
</g>
<rect x="159.0" y="24.0" width="3.7" height="1592.4" fill="#000"/>
<g id="curves">
<path class="cv" stroke="#b99a44" stroke-width="7.4" d="M159.0 403.3L187.0 403.3L190.0 400.3L193.0 403.3L197.0 403.3L200.0 405.3L203.0 403.3L209.0 403.3L212.0 401.3L215.0 403.3L223.0 403.3L226.0 405.3L229.0 403.3L235.0 403.3L238.0 400.3L241.0 403.3L247.0 403.3L250.0 405.3L253.0 403.0L255.0 402.3L256.5 401.1L257.5 399.6L258.5 397.0L261.0 388.3L261.5 388.0L263.5 388.0L264.0 388.9L266.5 397.6L268.0 400.8L270.0 402.4L273.0 403.2L276.0 406.3L279.0 403.3L281.0 403.3L284.0 400.3L287.0 403.3L293.0 403.3L296.0 401.3L299.0 405.6L300.0 406.4L422.0 406.4L425.0 409.4L428.0 406.4L440.0 406.4L446.0 410.0L467.5 410.0L471.0 408.5L474.0 406.2L477.0 402.8L478.5 399.5L479.5 395.1L480.5 387.4L483.0 355.0L483.5 352.0L485.5 352.0L486.0 355.0L489.0 391.7L490.5 399.5L492.0 402.8L494.0 405.3L496.5 407.5L499.0 409.1L501.5 410.0L525.5 410.0L529.0 408.2L531.0 406.3L532.5 404.4L536.0 397.9L538.0 391.6L539.5 379.8L540.5 364.3L543.0 302.5L543.5 299.0L545.5 299.0L548.5 368.0L549.5 382.1L550.5 390.0L551.5 394.4L552.5 397.2L556.0 403.9L557.5 406.0L559.5 408.0L561.5 409.3L563.5 410.0L649.5 410.0L653.5 406.5L657.5 410.0L659.5 410.0L662.0 409.1L664.0 407.7L667.0 404.3L670.0 398.8L671.5 394.1L672.5 388.5L674.0 372.1L677.0 309.8L677.5 307.0L679.5 307.0L680.0 309.8L683.0 372.1L684.0 384.4L685.0 391.7L686.0 396.0L687.0 398.8L690.0 404.3L693.5 408.1L695.5 409.4L697.5 410.0L826.0 410.0L829.0 409.0L832.0 406.9L834.0 404.5L835.5 401.5L837.0 396.3L839.0 382.8L843.0 336.3L843.5 336.0L846.5 336.0L850.5 381.9L851.5 390.0L853.0 398.0L854.5 402.5L856.5 405.7L859.5 408.4L861.5 409.4L863.5 410.0L873.0 409.9L876.0 409.0L878.0 407.5L879.5 404.8L880.5 401.9L883.5 389.0L884.0 388.0L886.5 388.0L887.0 388.6L890.0 401.5L892.0 406.6L894.0 408.7L898.0 410.0L987.5 410.0L990.5 408.9L992.5 406.9L994.0 404.1L997.5 395.0L1001.0 395.2L1004.0 403.1L1006.0 407.1L1008.0 409.0L1011.0 410.0L1083.0 410.0L1084.5 409.2L1087.0 406.5L1089.0 406.5L1091.5 409.2L1093.0 410.0L1193.5 410.0L1196.5 409.0L1198.5 407.1L1200.5 403.1L1203.5 395.2L1204.0 395.0L1207.0 395.0L1211.0 405.2L1212.5 407.6L1214.0 408.9L1217.0 410.0L1229.0 410.0L1231.5 409.4L1233.5 408.3L1235.0 406.7L1236.0 404.9L1237.5 400.5L1241.0 385.0L1241.5 384.0L1244.5 384.0L1245.0 385.0L1248.5 400.5L1250.5 405.9L1251.5 407.3L1253.0 408.6L1257.0 410.0L1377.5 410.0L1380.0 408.5L1382.0 405.6L1383.5 402.0L1387.0 390.4L1388.0 388.0L1392.0 388.1L1396.0 401.1L1397.5 405.0L1399.5 408.2L1401.0 409.4L1402.5 410.0L1631.5 410.0L1634.6 407.0L1637.5 409.9L1638.0 410.0L1731.0 410.0L1733.0 409.5L1735.0 408.5L1738.0 405.3L1740.0 401.8L1744.5 391.3L1746.0 388.7L1751.5 388.7L1753.0 391.5L1757.0 400.9L1759.5 405.4L1762.5 408.5L1766.0 410.0L2133.0 410.0"/>
<path class="cv" stroke="#aa7fd0" stroke-width="7.4" d="M159.0 634.8L232.0 634.8L236.0 638.5L243.0 638.5L246.0 635.5L249.0 637.9L253.0 636.1L254.0 635.1L255.0 633.3L256.0 630.0L257.0 624.9L259.5 608.0L262.0 608.0L265.0 627.2L266.0 631.5L267.0 634.1L268.5 636.0L271.0 637.4L274.0 635.3L277.0 638.5L289.0 638.5L292.0 636.5L295.0 638.5L409.0 638.5L412.0 635.5L415.0 638.5L420.0 638.5L426.0 641.6L457.0 641.6L460.0 644.6L463.0 641.6L465.0 641.6L467.0 640.9L470.0 635.9L473.0 635.7L475.0 632.4L476.0 629.7L477.5 621.9L478.5 612.2L481.5 567.5L484.0 567.5L487.5 616.6L489.0 627.3L490.0 631.0L491.0 633.2L493.0 636.2L495.5 638.8L498.0 640.6L500.5 641.6L501.0 641.6L505.0 638.6L509.0 641.6L524.5 641.5L526.5 640.6L528.5 639.1L531.5 635.1L534.0 629.5L536.0 620.7L537.5 607.0L538.5 591.8L542.0 510.2L542.5 509.4L545.0 509.4L548.5 588.1L550.0 610.6L551.0 619.4L552.5 627.1L555.0 633.8L558.0 638.3L560.5 640.5L563.0 641.6L637.0 641.6L640.0 638.6L643.0 641.6L647.0 641.6L650.0 643.6L653.0 641.6L659.0 641.6L661.0 640.8L663.0 639.4L665.0 637.1L666.5 634.7L669.0 628.7L671.0 619.7L672.5 605.5L673.5 589.7L677.0 501.7L677.5 498.6L680.0 498.6L680.5 503.9L684.0 591.5L685.0 606.8L686.0 616.8L688.0 627.4L690.5 633.9L692.0 636.5L694.0 639.0L696.0 640.6L698.5 641.6L727.0 641.6L735.0 638.6L743.0 641.6L754.5 641.6L757.0 640.6L758.5 639.1L762.5 631.0L765.5 631.0L769.5 639.1L771.0 640.6L773.5 641.6L821.0 641.6L824.0 640.8L826.5 639.5L829.5 637.2L832.0 633.9L834.0 629.3L835.5 623.5L838.0 605.9L842.0 560.2L842.5 555.0L843.0 553.3L847.0 553.3L852.0 607.7L853.5 619.1L855.5 628.4L857.5 633.4L860.0 636.9L864.0 639.9L868.5 641.6L871.0 641.6L874.5 640.4L876.5 639.1L878.0 637.2L879.5 633.2L880.5 628.7L884.0 604.7L887.0 604.7L890.0 625.8L892.0 634.9L893.5 638.0L895.0 639.5L897.5 640.8L900.5 641.6L986.0 641.6L989.5 640.5L992.0 638.2L994.0 634.3L998.0 622.7L998.5 622.6L1002.0 622.7L1005.5 633.0L1007.5 637.4L1008.5 638.8L1010.0 640.2L1011.5 640.9L1014.0 641.6L1079.5 641.6L1081.0 641.1L1082.5 639.9L1086.0 634.8L1086.5 634.4L1089.0 634.4L1089.5 634.6L1093.0 639.8L1094.5 641.0L1096.0 641.6L1186.0 641.6L1189.0 641.0L1191.5 640.1L1193.5 638.6L1195.0 636.8L1197.5 631.5L1201.5 618.8L1202.5 616.5L1207.0 616.5L1212.0 631.8L1213.5 635.2L1215.5 638.2L1217.5 639.8L1219.5 640.7L1223.5 641.6L1226.0 641.6L1229.5 640.6L1231.5 639.5L1233.0 638.0L1234.5 635.3L1236.5 628.8L1240.0 610.9L1240.5 608.6L1241.0 608.0L1244.5 608.0L1249.0 630.0L1250.0 633.5L1251.5 636.9L1253.0 638.9L1254.5 640.0L1257.0 641.1L1259.5 641.6L1262.5 641.6L1265.5 638.6L1268.5 641.6L1311.0 641.6L1314.0 638.6L1317.0 641.6L1375.5 641.6L1377.0 641.1L1378.5 640.2L1380.0 638.5L1381.0 636.8L1383.0 631.7L1387.0 617.6L1387.5 616.1L1388.0 615.8L1392.0 615.8L1393.0 618.3L1396.5 630.8L1398.5 636.2L1399.5 638.0L1401.0 639.9L1402.5 641.0L1404.5 641.6L1449.0 641.6L1452.0 638.6L1455.0 641.6L1626.5 641.6L1630.6 638.6L1634.5 641.5L1635.0 641.6L1720.5 641.6L1723.5 644.6L1726.5 641.6L1729.0 641.1L1731.5 640.0L1733.5 638.5L1735.0 636.8L1738.0 632.0L1744.0 618.3L1745.5 615.8L1752.0 615.8L1752.5 616.1L1759.0 630.8L1762.0 636.0L1764.0 638.4L1766.0 639.9L1768.5 641.1L1771.0 641.6L1984.0 641.6L1987.0 638.6L1990.0 641.6L2133.0 641.6"/>
<path class="cv" stroke="#599b78" stroke-width="7.3" d="M159.0 847.6L169.0 847.6L172.0 850.6L175.0 847.6L183.0 847.6L186.0 845.6L189.0 847.6L195.0 847.6L198.0 844.6L201.0 847.6L223.0 847.6L226.0 845.6L229.0 847.6L237.0 847.6L240.0 844.6L243.0 847.6L249.0 847.6L252.0 849.2L256.0 845.3L257.0 843.7L258.5 839.3L261.0 829.3L263.5 829.3L266.0 839.7L267.5 843.9L269.5 847.8L272.0 851.2L274.0 851.7L402.0 851.7L404.0 851.0L405.5 849.6L409.0 843.4L411.0 843.4L411.5 843.6L415.0 850.0L416.5 851.2L418.0 851.7L467.5 851.7L471.0 850.4L474.5 848.0L476.5 846.0L478.0 843.2L479.0 839.3L480.0 832.6L482.5 807.2L483.0 806.6L485.0 806.6L487.5 831.8L488.5 838.8L490.0 844.2L491.5 846.5L494.5 849.1L498.0 851.0L500.0 851.7L507.0 851.7L510.0 853.7L513.0 851.7L526.5 851.7L530.0 850.1L533.5 846.9L536.5 842.3L538.0 837.9L539.0 832.4L540.0 823.2L543.0 774.6L543.5 770.8L545.5 770.8L546.0 771.6L548.5 814.0L549.5 826.5L550.5 834.4L551.5 839.1L553.0 842.9L556.0 847.2L559.0 850.0L562.5 851.7L579.0 851.7L582.0 854.7L585.0 851.7L660.0 851.7L662.0 850.9L664.0 849.5L666.0 847.1L667.5 844.7L670.0 838.7L672.0 829.6L673.5 815.3L674.5 799.4L678.0 710.7L678.5 707.6L681.0 707.6L681.5 713.0L685.0 801.2L686.0 816.6L687.0 826.7L689.0 837.4L691.5 843.9L693.0 846.6L695.0 849.1L697.0 850.7L699.5 851.7L714.5 851.7L716.5 851.3L722.5 849.4L733.0 844.4L743.0 844.5L754.0 849.8L757.5 851.0L761.0 851.7L828.0 851.7L831.0 850.5L834.0 847.9L836.5 844.1L838.0 840.1L839.5 832.7L841.5 813.1L845.0 759.3L848.0 759.3L848.5 762.5L852.0 816.9L853.0 827.3L854.5 837.2L856.0 842.5L858.5 847.1L861.5 850.0L865.0 851.7L875.0 851.7L877.0 851.1L878.5 850.4L880.0 848.7L881.0 846.8L884.5 836.3L887.5 836.0L890.5 845.0L892.0 848.4L894.0 850.6L897.5 851.7L988.0 851.7L990.5 851.0L992.5 849.5L994.5 846.8L998.0 840.5L998.5 840.4L1002.0 840.5L1007.0 849.0L1009.0 850.7L1012.0 851.7L1192.5 851.7L1196.0 850.7L1198.5 849.0L1200.5 846.7L1204.5 840.7L1205.0 840.4L1209.0 840.4L1209.5 840.5L1210.0 841.1L1214.0 847.1L1216.0 849.3L1218.5 850.9L1222.0 851.7L1225.0 854.7L1228.0 851.7L1230.0 851.7L1232.0 851.2L1233.5 850.6L1235.0 849.4L1237.0 846.5L1240.5 838.3L1241.5 836.7L1245.0 836.7L1249.0 845.7L1250.5 848.3L1253.0 850.6L1256.0 851.7L1375.5 851.7L1377.5 851.0L1379.0 849.8L1380.5 847.8L1381.5 845.8L1383.5 840.2L1387.5 826.3L1388.0 825.9L1392.0 825.9L1393.0 828.4L1396.5 840.9L1398.5 846.3L1399.5 848.1L1401.0 850.0L1402.5 851.1L1404.5 851.7L1522.0 851.7L1525.2 848.7L1528.5 851.7L1728.5 851.7L1730.5 851.3L1732.5 850.3L1734.5 848.5L1736.0 846.4L1738.5 841.1L1744.0 825.7L1744.5 825.2L1749.5 825.2L1750.0 825.3L1750.5 826.4L1755.5 840.6L1758.0 846.0L1759.5 848.3L1761.5 850.1L1763.5 851.2L1765.5 851.7L2133.0 851.7"/>
<path class="cv" stroke="#3c6aa8" stroke-width="7.4" d="M159.0 1064.4L173.0 1064.4L177.0 1060.4L181.0 1064.4L241.0 1064.4L244.0 1061.4L247.0 1064.4L249.0 1064.4L252.0 1065.5L255.5 1061.5L257.0 1058.5L258.5 1052.3L261.0 1038.2L263.5 1038.2L266.5 1055.2L267.5 1058.8L268.5 1060.9L270.5 1062.8L275.5 1064.4L406.0 1064.4L407.5 1063.6L410.0 1059.5L411.5 1059.5L414.0 1063.5L415.5 1064.4L465.5 1064.4L469.5 1062.6L473.0 1059.5L475.5 1056.1L477.0 1052.2L478.5 1042.6L481.5 1001.8L482.0 1001.0L484.0 1001.0L486.5 1036.2L487.5 1046.0L489.0 1053.6L490.5 1056.8L492.5 1059.4L495.0 1061.8L497.5 1063.4L500.0 1064.4L524.5 1064.4L526.5 1063.5L528.5 1062.1L530.5 1059.9L532.0 1057.7L535.5 1050.3L536.5 1047.2L537.5 1042.4L538.5 1033.8L539.5 1018.4L542.5 942.9L544.5 942.9L545.0 946.8L547.5 1014.3L548.5 1031.3L550.0 1044.1L552.0 1051.1L555.5 1058.2L557.0 1060.3L559.0 1062.4L561.0 1063.7L563.0 1064.4L659.5 1064.4L662.0 1063.4L664.5 1061.5L667.5 1057.5L670.5 1051.1L672.0 1045.2L673.0 1038.0L674.5 1017.1L677.5 950.4L680.0 950.4L683.0 1018.9L684.0 1033.7L685.5 1045.8L687.5 1052.7L690.5 1058.4L692.0 1060.5L694.0 1062.5L696.0 1063.7L698.0 1064.4L717.0 1064.4L732.0 1061.0L742.5 1061.0L753.5 1063.7L758.0 1064.4L759.5 1063.8L761.0 1062.4L764.0 1057.1L764.5 1056.8L766.5 1056.8L767.0 1057.1L770.0 1062.4L771.5 1063.8L773.0 1064.4L826.5 1064.4L829.5 1063.3L832.5 1061.0L835.0 1057.5L836.5 1053.6L838.0 1046.6L840.0 1028.3L843.0 986.3L843.5 983.5L846.5 983.5L850.5 1036.1L851.5 1044.6L853.0 1052.6L854.5 1056.9L856.5 1060.1L859.5 1062.8L863.0 1064.4L872.0 1064.4L875.5 1063.3L877.5 1061.8L879.0 1059.1L880.0 1056.1L883.5 1039.5L884.0 1039.2L886.5 1039.2L890.0 1055.4L892.0 1060.8L893.0 1062.1L894.5 1063.2L898.5 1064.4L987.0 1064.4L990.0 1063.4L992.5 1061.3L994.5 1057.7L998.0 1049.5L998.5 1049.4L1002.0 1049.5L1005.5 1057.7L1007.5 1061.3L1010.0 1063.4L1013.0 1064.4L1188.0 1064.4L1191.0 1063.8L1193.5 1062.7L1195.0 1061.5L1196.5 1059.5L1198.5 1054.9L1202.5 1040.5L1203.5 1038.2L1207.5 1038.2L1212.5 1055.5L1214.0 1058.9L1215.5 1061.2L1217.5 1062.8L1220.0 1063.8L1222.5 1064.4L1227.0 1064.4L1230.0 1063.7L1232.0 1062.8L1233.5 1061.5L1235.0 1059.2L1237.0 1053.7L1240.5 1038.2L1241.5 1035.2L1245.0 1035.2L1249.5 1054.1L1250.5 1057.2L1252.0 1060.3L1253.5 1062.1L1255.0 1063.1L1259.5 1064.4L1376.0 1064.4L1377.5 1063.9L1379.0 1062.9L1381.5 1059.5L1383.5 1054.8L1387.0 1044.2L1387.5 1042.9L1388.0 1042.6L1392.0 1042.6L1393.0 1044.7L1396.5 1055.3L1398.5 1059.9L1401.0 1063.1L1402.5 1064.0L1404.0 1064.4L1731.0 1064.4L1733.0 1063.9L1735.0 1062.9L1736.5 1061.6L1738.0 1059.7L1740.5 1055.1L1744.5 1045.5L1746.0 1042.6L1751.5 1042.6L1753.0 1045.3L1757.5 1056.0L1759.5 1059.6L1761.0 1061.5L1762.5 1062.8L1764.5 1063.9L1766.5 1064.4L1869.0 1064.4L1872.0 1067.4L1875.0 1064.4L2054.0 1064.4L2057.0 1067.4L2060.0 1064.4L2133.0 1064.4"/>
<path class="cv" stroke="#bb5858" stroke-width="7.0" d="M159.0 1267.5L187.0 1267.5L190.0 1264.5L193.0 1267.5L202.0 1267.5L205.0 1269.5L208.0 1267.5L232.0 1267.5L235.0 1265.5L238.0 1267.5L242.0 1267.5L245.0 1264.5L248.0 1267.5L251.5 1267.5L253.0 1267.1L254.5 1266.2L259.0 1262.5L262.5 1262.5L266.0 1265.4L268.0 1268.1L270.0 1270.2L401.5 1270.2L403.0 1269.7L404.5 1268.5L408.0 1263.2L410.0 1263.2L410.5 1263.3L414.0 1268.9L415.0 1269.6L416.5 1270.2L472.0 1270.2L474.0 1269.7L475.5 1269.0L477.5 1266.9L479.0 1263.9L482.5 1253.1L483.0 1252.4L486.0 1252.4L486.5 1253.1L489.5 1262.5L491.0 1266.0L492.5 1268.2L494.5 1269.5L497.0 1270.2L524.5 1270.2L527.5 1269.4L530.0 1268.1L531.5 1266.8L533.0 1264.4L534.5 1260.2L535.5 1256.0L540.0 1229.4L543.5 1229.4L544.0 1230.2L544.5 1232.9L548.0 1254.6L550.0 1262.4L551.0 1264.8L552.5 1267.0L554.0 1268.3L556.5 1269.4L559.5 1270.2L603.5 1270.2L609.5 1266.2L615.5 1270.2L660.0 1270.1L662.0 1269.2L664.0 1267.7L666.0 1265.1L667.5 1262.4L670.0 1255.9L672.0 1245.9L673.5 1230.2L674.5 1212.8L678.0 1115.6L678.5 1112.2L681.0 1112.2L681.5 1118.1L685.0 1214.8L686.0 1231.6L687.0 1242.7L688.0 1249.7L689.0 1254.4L691.5 1261.6L693.0 1264.5L695.0 1267.2L697.0 1269.0L699.5 1270.2L728.5 1270.2L731.0 1269.6L733.5 1268.3L735.5 1266.0L740.0 1257.1L741.0 1255.8L745.0 1255.8L749.0 1263.8L751.0 1266.9L753.5 1269.1L757.0 1270.2L826.0 1270.2L827.5 1269.8L829.5 1268.8L832.0 1266.6L834.5 1262.9L836.0 1259.2L837.5 1252.4L839.0 1240.0L840.0 1227.4L843.0 1177.9L843.5 1174.7L846.5 1174.7L850.5 1236.6L851.5 1246.7L853.0 1256.1L855.0 1262.3L856.5 1265.0L858.5 1267.3L860.5 1268.9L863.0 1270.1L867.0 1270.2L870.0 1273.2L873.0 1270.2L876.5 1270.2L878.5 1269.3L880.0 1267.8L883.0 1263.5L886.0 1263.5L889.5 1268.3L892.0 1270.1L900.0 1270.2L906.0 1271.2L994.0 1271.2L995.5 1270.4L998.0 1267.0L998.5 1266.8L1000.5 1266.9L1003.0 1270.3L1004.5 1271.2L1196.5 1271.2L1198.5 1270.5L1200.0 1269.5L1205.0 1263.4L1205.5 1263.2L1209.0 1263.2L1214.0 1269.4L1215.5 1270.4L1217.5 1271.2L1230.5 1271.2L1233.5 1269.9L1238.5 1266.6L1243.0 1266.6L1248.5 1270.0L1251.5 1271.2L1375.5 1271.2L1377.0 1270.7L1378.5 1269.7L1380.0 1268.0L1381.0 1266.3L1383.0 1261.2L1387.0 1246.9L1387.5 1245.4L1388.0 1245.0L1392.0 1245.0L1393.0 1247.5L1396.5 1260.2L1398.5 1265.7L1399.5 1267.6L1401.0 1269.5L1402.5 1270.6L1404.5 1271.2L1729.0 1271.2L1731.0 1270.6L1733.0 1269.5L1734.5 1268.0L1736.0 1265.9L1738.5 1260.7L1743.0 1247.9L1744.0 1245.5L1744.5 1245.0L1750.0 1245.0L1755.5 1260.2L1758.0 1265.6L1759.5 1267.8L1761.5 1269.7L1763.5 1270.7L1765.5 1271.2L2133.0 1271.2"/>
<path class="cv" stroke="#555555" stroke-width="7.6" d="M159.0 1550.0L241.0 1550.0L245.0 1547.0L249.0 1550.0L614.5 1550.0L616.0 1548.8L618.0 1545.9L619.5 1545.9L621.5 1549.0L623.0 1550.0L660.5 1550.0L661.5 1549.7L664.0 1548.0L666.0 1545.5L668.0 1541.5L669.5 1537.2L672.0 1525.8L674.0 1506.6L675.5 1477.4L676.5 1447.3L680.0 1306.1L683.0 1306.1L683.5 1314.3L687.0 1457.3L688.5 1495.1L690.0 1516.2L692.0 1530.3L694.5 1539.6L696.0 1543.3L698.0 1546.7L700.0 1548.7L702.5 1550.0L739.0 1549.9L741.5 1548.9L743.5 1547.1L745.0 1544.8L748.5 1538.2L749.0 1538.1L752.5 1538.2L756.0 1544.8L757.5 1547.1L759.5 1548.9L762.5 1550.0L828.0 1550.0L830.0 1549.2L832.0 1547.7L834.5 1544.7L837.0 1539.6L838.5 1534.4L840.0 1525.2L842.0 1500.1L846.0 1413.6L849.0 1413.6L853.0 1500.1L855.0 1525.2L856.5 1534.4L857.5 1538.1L859.0 1542.0L860.5 1544.7L862.5 1547.3L864.5 1548.9L867.0 1550.0L1179.5 1550.0L1180.0 1550.3L1182.3 1554.0L1185.0 1550.0L1244.5 1550.0L1247.0 1554.0L1249.5 1550.0L1285.0 1550.0L1287.6 1554.0L1290.0 1550.2L1290.5 1550.0L1311.5 1550.0L1312.0 1550.3L1314.3 1554.0L1317.0 1550.0L1375.5 1550.0L1377.5 1549.4L1379.5 1548.1L1381.0 1546.2L1382.5 1543.0L1385.0 1534.2L1389.0 1514.9L1389.5 1513.0L1390.0 1512.9L1394.0 1512.9L1394.5 1513.7L1399.0 1535.1L1401.5 1543.5L1403.0 1546.5L1404.5 1548.3L1406.5 1549.5L1408.5 1550.0L1515.0 1550.0L1515.5 1550.2L1517.9 1554.0L1520.5 1550.0L1728.5 1550.0L1731.5 1549.2L1734.0 1547.7L1736.0 1545.4L1737.5 1542.7L1740.5 1534.6L1746.0 1514.4L1746.5 1512.9L1747.0 1512.9L1752.5 1512.9L1754.0 1517.0L1759.0 1535.5L1762.0 1543.3L1763.5 1545.8L1765.5 1547.9L1768.0 1549.3L1771.0 1550.0L1978.5 1550.0L1981.0 1554.0L1983.5 1550.0L2006.0 1550.0L2010.0 1554.0L2014.0 1550.0L2021.0 1550.0L2024.0 1553.0L2027.0 1550.0L2039.5 1550.0L2042.0 1554.0L2044.5 1550.0L2133.0 1550.0"/>
<path class="cv" stroke="#cd9b12" stroke-width="4.2" d="M261.0 388.3L261.5 388.0L263.5 388.0L264.0 388.9M479.5 395.1L480.5 387.4L483.0 355.0L483.5 352.0L485.5 352.0L486.0 355.0L489.0 391.7M538.0 391.6L539.5 379.8L540.5 364.3L543.0 302.5L543.5 299.0L545.5 299.0L548.5 368.0L549.5 382.1L550.5 390.0L551.5 394.4M671.5 394.1L672.5 388.5L674.0 372.1L677.0 309.8L677.5 307.0L679.5 307.0L680.0 309.8L683.0 372.1L684.0 384.4L685.0 391.7M839.0 382.8L843.0 336.3L843.5 336.0L846.5 336.0L850.5 381.9L851.5 390.0M883.5 389.0L884.0 388.0L886.5 388.0L887.0 388.6M997.5 395.0L1001.0 395.2M1203.5 395.2L1204.0 395.0L1207.0 395.0M1241.0 385.0L1241.5 384.0L1244.5 384.0L1245.0 385.0M1387.0 390.4L1388.0 388.0L1392.0 388.1M1744.5 391.3L1746.0 388.7L1751.5 388.7L1753.0 391.5"/>
<path class="cv" stroke="#b07ce0" stroke-width="4.2" d="M259.5 608.0L262.0 608.0M477.5 621.9L478.5 612.2L481.5 567.5L484.0 567.5L487.5 616.6L489.0 627.3M536.0 620.7L537.5 607.0L538.5 591.8L542.0 510.2L542.5 509.4L545.0 509.4L548.5 588.1L550.0 610.6L551.0 619.4L552.5 627.1M671.0 619.7L672.5 605.5L673.5 589.7L677.0 501.7L677.5 498.6L680.0 498.6L680.5 503.9L684.0 591.5L685.0 606.8L686.0 616.8L688.0 627.4M835.5 623.5L838.0 605.9L842.0 560.2L842.5 555.0L843.0 553.3L847.0 553.3L852.0 607.7L853.5 619.1M884.0 604.7L887.0 604.7L890.0 625.8M998.0 622.7L998.5 622.6L1002.0 622.7M1201.5 618.8L1202.5 616.5L1207.0 616.5M1240.0 610.9L1240.5 608.6L1241.0 608.0L1244.5 608.0M1387.0 617.6L1387.5 616.1L1388.0 615.8L1392.0 615.8L1393.0 618.3M1744.0 618.3L1745.5 615.8L1752.0 615.8L1752.5 616.1"/>
<path class="cv" stroke="#40a670" stroke-width="4.1" d="M261.0 829.3L263.5 829.3M480.0 832.6L482.5 807.2L483.0 806.6L485.0 806.6L487.5 831.8M539.0 832.4L540.0 823.2L543.0 774.6L543.5 770.8L545.5 770.8L546.0 771.6L548.5 814.0L549.5 826.5L550.5 834.4M672.0 829.6L673.5 815.3L674.5 799.4L678.0 710.7L678.5 707.6L681.0 707.6L681.5 713.0L685.0 801.2L686.0 816.6L687.0 826.7L689.0 837.4M839.5 832.7L841.5 813.1L845.0 759.3L848.0 759.3L848.5 762.5L852.0 816.9L853.0 827.3L854.5 837.2M884.5 836.3L887.5 836.0M1241.5 836.7L1245.0 836.7M1387.5 826.3L1388.0 825.9L1392.0 825.9L1393.0 828.4M1744.0 825.7L1744.5 825.2L1749.5 825.2L1750.0 825.3L1750.5 826.4"/>
<path class="cv" stroke="#206edc" stroke-width="4.2" d="M261.0 1038.2L263.5 1038.2M478.5 1042.6L481.5 1001.8L482.0 1001.0L484.0 1001.0L486.5 1036.2L487.5 1046.0M535.5 1050.3L536.5 1047.2L537.5 1042.4L538.5 1033.8L539.5 1018.4L542.5 942.9L544.5 942.9L545.0 946.8L547.5 1014.3L548.5 1031.3L550.0 1044.1M672.0 1045.2L673.0 1038.0L674.5 1017.1L677.5 950.4L680.0 950.4L683.0 1018.9L684.0 1033.7L685.5 1045.8M838.0 1046.6L840.0 1028.3L843.0 986.3L843.5 983.5L846.5 983.5L850.5 1036.1L851.5 1044.6M883.5 1039.5L884.0 1039.2L886.5 1039.2M998.0 1049.5L998.5 1049.4L1002.0 1049.5M1202.5 1040.5L1203.5 1038.2L1207.5 1038.2M1240.5 1038.2L1241.5 1035.2L1245.0 1035.2M1387.0 1044.2L1387.5 1042.9L1388.0 1042.6L1392.0 1042.6L1393.0 1044.7M1744.5 1045.5L1746.0 1042.6L1751.5 1042.6L1753.0 1045.3"/>
<path class="cv" stroke="#e24646" stroke-width="3.8" d="M482.5 1253.1L483.0 1252.4L486.0 1252.4L486.5 1253.1M535.5 1256.0L540.0 1229.4L543.5 1229.4L544.0 1230.2L544.5 1232.9L548.0 1254.6M670.0 1255.9L672.0 1245.9L673.5 1230.2L674.5 1212.8L678.0 1115.6L678.5 1112.2L681.0 1112.2L681.5 1118.1L685.0 1214.8L686.0 1231.6L687.0 1242.7L688.0 1249.7L689.0 1254.4M741.0 1255.8L745.0 1255.8M837.5 1252.4L839.0 1240.0L840.0 1227.4L843.0 1177.9L843.5 1174.7L846.5 1174.7L850.5 1236.6L851.5 1246.7L853.0 1256.1M1387.0 1246.9L1387.5 1245.4L1388.0 1245.0L1392.0 1245.0L1393.0 1247.5M1743.0 1247.9L1744.0 1245.5L1744.5 1245.0L1750.0 1245.0"/>
</g>
<g id="axes" fill="#000">
<rect x="159.0" y="24.0" width="1972.0" height="7.0"/>
<rect x="159.0" y="1609.2" width="1972.0" height="7.2"/>
<rect x="2131.0" y="27.7" width="3.8" height="1584.0"/>
<rect x="404.2" y="1579.0" width="3.6" height="31.2"/>
<rect x="653.2" y="1579.0" width="3.6" height="31.2"/>
<rect x="898.2" y="1579.0" width="3.6" height="31.2"/>
<rect x="1142.9" y="1579.0" width="3.6" height="31.2"/>
<rect x="1391.7" y="1579.0" width="3.6" height="31.2"/>
<rect x="1636.8" y="1579.0" width="3.6" height="31.2"/>
<rect x="1882.3" y="1579.0" width="3.6" height="31.2"/>
<rect x="283.2" y="1598.0" width="3.6" height="12.2"/>
<rect x="528.4" y="1598.0" width="3.6" height="12.2"/>
<rect x="773.3" y="1598.0" width="3.6" height="12.2"/>
<rect x="1022.4" y="1598.0" width="3.6" height="12.2"/>
<rect x="1267.4" y="1598.0" width="3.6" height="12.2"/>
<rect x="1512.4" y="1598.0" width="3.6" height="12.2"/>
<rect x="1761.3" y="1598.0" width="3.6" height="12.2"/>
<rect x="2006.6" y="1598.0" width="3.6" height="12.2"/>
</g>
<g id="markers">
<text class="se" x="248.6" y="373.3" font-size="59.3" textLength="31.7" lengthAdjust="spacingAndGlyphs">●</text>
<text class="se" x="467.2" y="343.8" font-size="59.3" textLength="31.7" lengthAdjust="spacingAndGlyphs">●</text>
<text class="se" x="531.5" y="296.0" font-size="59.3" textLength="31.7" lengthAdjust="spacingAndGlyphs">●</text>
<text class="dj" x="646.2" y="303.4" font-size="60.7" textLength="54.9" lengthAdjust="spacingAndGlyphs">♦</text>
<text class="se" x="740.9" y="351.5" font-size="73.9" textLength="45.7" lengthAdjust="spacingAndGlyphs">♣</text>
<text class="se" x="742.4" y="399.4" font-size="59.3" textLength="31.7" lengthAdjust="spacingAndGlyphs">●</text>
<text class="dj" x="815.4" y="314.4" font-size="60.7" textLength="54.9" lengthAdjust="spacingAndGlyphs">♦</text>
<text class="se" x="874.5" y="377.6" font-size="59.3" textLength="31.7" lengthAdjust="spacingAndGlyphs">●</text>
<text class="se" x="976.4" y="392.1" font-size="59.3" textLength="31.7" lengthAdjust="spacingAndGlyphs">●</text>
<text class="se" x="1070.5" y="392.1" font-size="59.3" textLength="31.7" lengthAdjust="spacingAndGlyphs">●</text>
<rect x="1186.9" y="298.5" width="29.6" height="47.0" fill="none" stroke="#000" stroke-width="3.6"/>
<text class="se" x="1187.5" y="395.9" font-size="59.3" textLength="31.7" lengthAdjust="spacingAndGlyphs">●</text>
<text class="se" x="1232.4" y="373.3" font-size="59.3" textLength="31.7" lengthAdjust="spacingAndGlyphs">●</text>
<text class="dj" x="1358.7" y="381.0" font-size="60.7" textLength="54.9" lengthAdjust="spacingAndGlyphs">♦</text>
<text class="dj" x="1720.7" y="383.9" font-size="60.7" textLength="54.9" lengthAdjust="spacingAndGlyphs">♦</text>
<text class="se" x="248.4" y="594.0" font-size="59.3" textLength="31.7" lengthAdjust="spacingAndGlyphs">●</text>
<text class="se" x="471.0" y="550.0" font-size="59.3" textLength="31.7" lengthAdjust="spacingAndGlyphs">●</text>
<text class="se" x="527.1" y="502.1" font-size="59.3" textLength="31.7" lengthAdjust="spacingAndGlyphs">●</text>
<rect x="530.4" y="415.8" width="29.6" height="47.0" fill="none" stroke="#000" stroke-width="3.6"/>
<text class="dj" x="653.3" y="480.1" font-size="60.7" textLength="54.9" lengthAdjust="spacingAndGlyphs">♦</text>
<text class="se" x="741.1" y="575.7" font-size="73.9" textLength="45.7" lengthAdjust="spacingAndGlyphs">♣</text>
<text class="se" x="749.7" y="620.0" font-size="59.3" textLength="31.7" lengthAdjust="spacingAndGlyphs">●</text>
<text class="dj" x="807.9" y="538.6" font-size="60.7" textLength="54.9" lengthAdjust="spacingAndGlyphs">♦</text>
<text class="se" x="867.0" y="601.7" font-size="59.3" textLength="31.7" lengthAdjust="spacingAndGlyphs">●</text>
<text class="se" x="983.5" y="612.6" font-size="59.3" textLength="31.7" lengthAdjust="spacingAndGlyphs">●</text>
<rect x="1073.5" y="570.7" width="29.6" height="47.0" fill="none" stroke="#000" stroke-width="3.6"/>
<rect x="1182.8" y="556.0" width="29.6" height="47.0" fill="none" stroke="#000" stroke-width="3.6"/>
<text class="se" x="1228.8" y="586.5" font-size="59.3" textLength="31.7" lengthAdjust="spacingAndGlyphs">●</text>
<text class="dj" x="1362.5" y="605.1" font-size="60.7" textLength="54.9" lengthAdjust="spacingAndGlyphs">♦</text>
<text class="dj" x="1720.7" y="601.0" font-size="60.7" textLength="54.9" lengthAdjust="spacingAndGlyphs">♦</text>
<text class="se" x="244.7" y="814.9" font-size="59.3" textLength="31.7" lengthAdjust="spacingAndGlyphs">●</text>
<text class="se" x="388.2" y="822.0" font-size="59.3" textLength="31.7" lengthAdjust="spacingAndGlyphs">●</text>
<text class="se" x="382.9" y="781.5" font-size="73.9" textLength="45.7" lengthAdjust="spacingAndGlyphs">♣</text>
<rect x="394.8" y="684.2" width="29.6" height="47.0" fill="none" stroke="#000" stroke-width="3.6"/>
<text class="se" x="471.0" y="793.0" font-size="59.3" textLength="31.7" lengthAdjust="spacingAndGlyphs">●</text>
<text class="se" x="527.4" y="759.5" font-size="59.3" textLength="31.7" lengthAdjust="spacingAndGlyphs">●</text>
<rect x="530.2" y="669.9" width="29.6" height="47.0" fill="none" stroke="#000" stroke-width="3.6"/>
<text class="dj" x="649.6" y="685.5" font-size="60.7" textLength="54.9" lengthAdjust="spacingAndGlyphs">♦</text>
<text class="se" x="726.2" y="789.2" font-size="73.9" textLength="45.7" lengthAdjust="spacingAndGlyphs">♣</text>
<text class="se" x="734.9" y="822.0" font-size="59.3" textLength="31.7" lengthAdjust="spacingAndGlyphs">●</text>
<text class="dj" x="812.0" y="740.9" font-size="60.7" textLength="54.9" lengthAdjust="spacingAndGlyphs">♦</text>
<text class="se" x="867.0" y="814.9" font-size="59.3" textLength="31.7" lengthAdjust="spacingAndGlyphs">●</text>
<text class="dj" x="977.7" y="799.4" font-size="60.7" textLength="54.9" lengthAdjust="spacingAndGlyphs">♦</text>
<text class="se" x="987.2" y="829.4" font-size="59.3" textLength="31.7" lengthAdjust="spacingAndGlyphs">●</text>
<rect x="1182.8" y="743.7" width="29.6" height="47.0" fill="none" stroke="#000" stroke-width="3.6"/>
<text class="se" x="1191.3" y="829.4" font-size="59.3" textLength="31.7" lengthAdjust="spacingAndGlyphs">●</text>
<text class="se" x="1232.5" y="814.9" font-size="59.3" textLength="31.7" lengthAdjust="spacingAndGlyphs">●</text>
<text class="dj" x="1362.5" y="818.6" font-size="60.7" textLength="54.9" lengthAdjust="spacingAndGlyphs">♦</text>
<text class="dj" x="1717.0" y="814.6" font-size="60.7" textLength="54.9" lengthAdjust="spacingAndGlyphs">♦</text>
<text class="se" x="248.4" y="1024.1" font-size="59.3" textLength="31.7" lengthAdjust="spacingAndGlyphs">●</text>
<text class="se" x="388.2" y="1039.3" font-size="59.3" textLength="31.7" lengthAdjust="spacingAndGlyphs">●</text>
<text class="se" x="386.3" y="998.1" font-size="73.9" textLength="45.7" lengthAdjust="spacingAndGlyphs">♣</text>
<rect x="390.9" y="897.5" width="29.6" height="47.0" fill="none" stroke="#000" stroke-width="3.6"/>
<text class="se" x="471.0" y="983.6" font-size="59.3" textLength="31.7" lengthAdjust="spacingAndGlyphs">●</text>
<text class="se" x="527.4" y="939.6" font-size="59.3" textLength="31.7" lengthAdjust="spacingAndGlyphs">●</text>
<rect x="530.2" y="861.2" width="29.6" height="47.0" fill="none" stroke="#000" stroke-width="3.6"/>
<text class="dj" x="649.6" y="942.7" font-size="60.7" textLength="54.9" lengthAdjust="spacingAndGlyphs">♦</text>
<text class="se" x="741.1" y="994.7" font-size="73.9" textLength="45.7" lengthAdjust="spacingAndGlyphs">♣</text>
<text class="se" x="746.4" y="1046.7" font-size="59.3" textLength="31.7" lengthAdjust="spacingAndGlyphs">●</text>
<text class="dj" x="815.5" y="954.2" font-size="60.7" textLength="54.9" lengthAdjust="spacingAndGlyphs">♦</text>
<text class="se" x="865.7" y="1031.9" font-size="73.9" textLength="45.7" lengthAdjust="spacingAndGlyphs">♣</text>
<text class="se" x="983.5" y="1039.3" font-size="59.3" textLength="31.7" lengthAdjust="spacingAndGlyphs">●</text>
<rect x="1194.0" y="967.8" width="29.6" height="47.0" fill="none" stroke="#000" stroke-width="3.6"/>
<text class="se" x="1232.5" y="1006.6" font-size="59.3" textLength="31.7" lengthAdjust="spacingAndGlyphs">●</text>
<text class="dj" x="1362.5" y="1027.8" font-size="60.7" textLength="54.9" lengthAdjust="spacingAndGlyphs">♦</text>
<text class="dj" x="1717.0" y="1031.2" font-size="60.7" textLength="54.9" lengthAdjust="spacingAndGlyphs">♦</text>
<text class="se" x="252.1" y="1237.5" font-size="59.3" textLength="31.7" lengthAdjust="spacingAndGlyphs">●</text>
<text class="se" x="391.6" y="1240.9" font-size="59.3" textLength="31.7" lengthAdjust="spacingAndGlyphs">●</text>
<text class="se" x="382.9" y="1200.6" font-size="73.9" textLength="45.7" lengthAdjust="spacingAndGlyphs">♣</text>
<rect x="390.9" y="1100.0" width="29.6" height="47.0" fill="none" stroke="#000" stroke-width="3.6"/>
<text class="se" x="474.7" y="1240.9" font-size="59.3" textLength="31.7" lengthAdjust="spacingAndGlyphs">●</text>
<text class="se" x="523.7" y="1218.9" font-size="59.3" textLength="31.7" lengthAdjust="spacingAndGlyphs">●</text>
<rect x="522.7" y="1133.2" width="29.6" height="47.0" fill="none" stroke="#000" stroke-width="3.6"/>
<text class="dj" x="649.6" y="1108.1" font-size="60.7" textLength="54.9" lengthAdjust="spacingAndGlyphs">♦</text>
<text class="se" x="715.0" y="1193.2" font-size="73.9" textLength="45.7" lengthAdjust="spacingAndGlyphs">♣</text>
<text class="se" x="727.4" y="1237.5" font-size="59.3" textLength="31.7" lengthAdjust="spacingAndGlyphs">●</text>
<text class="dj" x="815.5" y="1160.1" font-size="60.7" textLength="54.9" lengthAdjust="spacingAndGlyphs">♦</text>
<text class="se" x="869.4" y="1248.6" font-size="73.9" textLength="45.7" lengthAdjust="spacingAndGlyphs">♣</text>
<rect x="1182.8" y="1166.3" width="29.6" height="47.0" fill="none" stroke="#000" stroke-width="3.6"/>
<text class="se" x="1183.9" y="1252.0" font-size="59.3" textLength="31.7" lengthAdjust="spacingAndGlyphs">●</text>
<text class="se" x="1232.5" y="1256.1" font-size="59.3" textLength="31.7" lengthAdjust="spacingAndGlyphs">●</text>
<text class="dj" x="1355.0" y="1215.5" font-size="60.7" textLength="54.9" lengthAdjust="spacingAndGlyphs">♦</text>
<text class="dj" x="1724.1" y="1226.7" font-size="60.7" textLength="54.9" lengthAdjust="spacingAndGlyphs">♦</text>
<text class="dj" x="653.6" y="1310.8" font-size="60.7" textLength="54.9" lengthAdjust="spacingAndGlyphs">♦</text>
<text class="se" x="733.5" y="1523.7" font-size="73.9" textLength="45.7" lengthAdjust="spacingAndGlyphs">♣</text>
<text class="dj" x="815.8" y="1406.4" font-size="60.7" textLength="54.9" lengthAdjust="spacingAndGlyphs">♦</text>
<text class="dj" x="1362.5" y="1494.7" font-size="60.7" textLength="54.9" lengthAdjust="spacingAndGlyphs">♦</text>
<text class="dj" x="1724.6" y="1498.2" font-size="60.7" textLength="54.9" lengthAdjust="spacingAndGlyphs">♦</text>
</g>
<g id="legend">
<text class="se"><tspan class="dj" x="1189.7" y="116.2" font-size="61.1" textLength="53.6" lengthAdjust="spacingAndGlyphs">♦</tspan><tspan class="se" x="1245.2" y="115.2" font-size="80.0" textLength="36.4" lengthAdjust="spacingAndGlyphs">–</tspan><tspan class="se" font-style="italic" x="1284.7" y="116.5" font-size="80.6" textLength="29.6" lengthAdjust="spacingAndGlyphs">γ</tspan><tspan class="se" x="1316.6" y="113.0" font-size="79.1" textLength="14.6" lengthAdjust="spacingAndGlyphs">′</tspan><tspan class="se" font-weight="700" x="1332.4" y="118.9" font-size="94.1" textLength="24.9" lengthAdjust="spacingAndGlyphs">-</tspan><tspan class="se" x="1354.2" y="117.0" font-size="85.0" textLength="74.4" lengthAdjust="spacingAndGlyphs">Fe</tspan><tspan class="tk" x="1427.3" y="137.9" font-size="49.8" textLength="28.3" lengthAdjust="spacingAndGlyphs">4</tspan><tspan class="se" x="1451.6" y="117.0" font-size="85.0" textLength="58.6" lengthAdjust="spacingAndGlyphs">N</tspan></text>
<text class="se"><tspan class="se" x="1545.0" y="114.1" font-size="70.2" textLength="37.4" lengthAdjust="spacingAndGlyphs">●</tspan><tspan class="se" x="1584.4" y="115.2" font-size="80.0" textLength="36.5" lengthAdjust="spacingAndGlyphs">–</tspan><tspan class="se" x="1622.9" y="117.0" font-size="85.0" textLength="76.7" lengthAdjust="spacingAndGlyphs">Fe</tspan><tspan class="tk" x="1697.9" y="137.7" font-size="48.8" textLength="27.2" lengthAdjust="spacingAndGlyphs">2</tspan><tspan class="se" x="1725.4" y="117.0" font-size="85.0" textLength="50.7" lengthAdjust="spacingAndGlyphs">O</tspan><tspan class="tk" x="1777.4" y="137.0" font-size="47.8" textLength="26.7" lengthAdjust="spacingAndGlyphs">3</tspan></text>
<text class="se"><tspan class="dj" x="1843.8" y="107.9" font-size="72.9" textLength="45.9" lengthAdjust="spacingAndGlyphs">□</tspan><tspan class="se" x="1885.8" y="115.2" font-size="80.0" textLength="37.2" lengthAdjust="spacingAndGlyphs">–</tspan><tspan class="se" x="1924.6" y="117.0" font-size="85.0" textLength="79.0" lengthAdjust="spacingAndGlyphs">Fe</tspan><tspan class="tk" x="1998.9" y="137.0" font-size="47.8" textLength="27.8" lengthAdjust="spacingAndGlyphs">3</tspan><tspan class="se" x="2029.9" y="117.0" font-size="85.0" textLength="50.9" lengthAdjust="spacingAndGlyphs">O</tspan><tspan class="tk" x="2083.0" y="137.9" font-size="49.8" textLength="29.1" lengthAdjust="spacingAndGlyphs">4</tspan></text>
<text class="se"><tspan class="se" x="1190.5" y="251.0" font-size="84.7" textLength="44.8" lengthAdjust="spacingAndGlyphs">♣</tspan><tspan class="se" x="1245.2" y="247.8" font-size="80.0" textLength="36.4" lengthAdjust="spacingAndGlyphs">–</tspan><tspan class="se" x="1286.9" y="249.7" font-size="76.2" textLength="31.8" lengthAdjust="spacingAndGlyphs">ε</tspan><tspan class="se" font-weight="700" x="1321.3" y="251.4" font-size="94.1" textLength="24.5" lengthAdjust="spacingAndGlyphs">-</tspan><tspan class="se" x="1342.7" y="249.7" font-size="85.0" textLength="75.4" lengthAdjust="spacingAndGlyphs">Fe</tspan><tspan class="tk" x="1415.0" y="269.7" font-size="48.5" textLength="72.8" lengthAdjust="spacingAndGlyphs">2-3</tspan><tspan class="se" x="1483.3" y="249.7" font-size="85.0" textLength="61.0" lengthAdjust="spacingAndGlyphs">N</tspan></text>
</g>
<g id="labels">
<text class="se" x="1729.7" y="299.0" font-size="81.5" textLength="383.7" lengthAdjust="spacingAndGlyphs">400 °C <tspan dy="9.5">×</tspan><tspan dy="-9.5"> 4 h</tspan></text>
<text class="se" x="1733.8" y="509.2" font-size="81.5" textLength="379.0" lengthAdjust="spacingAndGlyphs">400 °C <tspan dy="9.5">×</tspan><tspan dy="-9.5"> 2 h</tspan></text>
<text class="se" x="1725.4" y="739.6" font-size="81.5" textLength="380.6" lengthAdjust="spacingAndGlyphs">450 °C <tspan dy="9.5">×</tspan><tspan dy="-9.5"> 1 h</tspan></text>
<text class="se" x="1725.4" y="942.7" font-size="81.5" textLength="380.6" lengthAdjust="spacingAndGlyphs">400 °C <tspan dy="9.5">×</tspan><tspan dy="-9.5"> 1 h</tspan></text>
<text class="se" x="1723.2" y="1148.3" font-size="81.5" textLength="378.8" lengthAdjust="spacingAndGlyphs">350 °C <tspan dy="9.5">×</tspan><tspan dy="-9.5"> 1 h</tspan></text>
<text class="se" x="1955.3" y="1506.9" font-size="85.0" textLength="102.7" lengthAdjust="spacingAndGlyphs">PN</text>
</g>
<g id="ticklabels">
<text class="tk" x="129.2" y="1699.7" font-size="57.6" textLength="60.4" lengthAdjust="spacingAndGlyphs">20</text>
<text class="tk" x="373.6" y="1699.7" font-size="57.6" textLength="61.7" lengthAdjust="spacingAndGlyphs">30</text>
<text class="tk" x="621.3" y="1699.7" font-size="57.6" textLength="62.6" lengthAdjust="spacingAndGlyphs">40</text>
<text class="tk" x="866.5" y="1699.7" font-size="57.6" textLength="62.1" lengthAdjust="spacingAndGlyphs">50</text>
<text class="tk" x="1112.1" y="1699.7" font-size="57.6" textLength="61.2" lengthAdjust="spacingAndGlyphs">60</text>
<text class="tk" x="1362.0" y="1699.7" font-size="57.6" textLength="61.0" lengthAdjust="spacingAndGlyphs">70</text>
<text class="tk" x="1606.3" y="1699.7" font-size="57.6" textLength="62.2" lengthAdjust="spacingAndGlyphs">80</text>
<text class="tk" x="1850.7" y="1699.7" font-size="57.6" textLength="66.3" lengthAdjust="spacingAndGlyphs">90</text>
<text class="tk" x="2087.9" y="1699.7" font-size="57.6" textLength="89.2" lengthAdjust="spacingAndGlyphs">100</text>
</g>
<g id="titles">
<text class="se" x="1074.7" y="1843.2" font-size="106.0" textLength="224.2" lengthAdjust="spacingAndGlyphs">2θ/(°)</text>
<text class="se" transform="translate(86.8 1093.0) rotate(-90)" x="0" y="0" font-size="108.0" textLength="361.8" lengthAdjust="spacingAndGlyphs">Intensity</text>
</g>
</svg>
</body>
</html>
